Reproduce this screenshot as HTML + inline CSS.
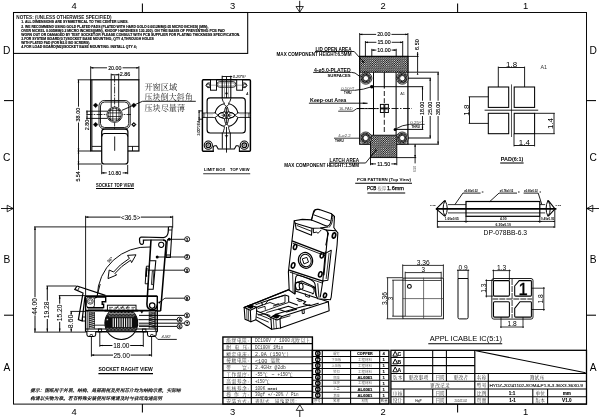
<!DOCTYPE html>
<html><head><meta charset="utf-8"><title>Socket drawing</title>
<style>
html,body{margin:0;padding:0;background:#fff;}
body{width:600px;height:417px;overflow:hidden;font-family:"Liberation Sans",sans-serif;}
svg{display:block;}
</style></head><body>
<svg width="600" height="417" viewBox="0 0 600 417">
<rect x="0" y="0" width="600" height="417" fill="#fff"/>
<filter id="idf" x="0" y="0" width="600" height="417" filterUnits="userSpaceOnUse"><feOffset dx="0" dy="0"/></filter>
<g filter="url(#idf)">
<g id="s_frame">
<rect x="13.5" y="12.5" width="573" height="391.6" rx="0" stroke="#000" stroke-width="0.96" fill="none" />
<rect x="13.5" y="12.5" width="234.2" height="40.9" rx="0" stroke="#000" stroke-width="1.05" fill="none" />
<text x="74.2" y="9.3" font-size="9.4" text-anchor="middle" font-weight="normal" fill="#000" stroke="#000" stroke-width="0" font-family="Liberation Sans, sans-serif" >4</text>
<text x="74.2" y="414.6" font-size="9.4" text-anchor="middle" font-weight="normal" fill="#000" stroke="#000" stroke-width="0" font-family="Liberation Sans, sans-serif" >4</text>
<text x="232.5" y="9.3" font-size="9.4" text-anchor="middle" font-weight="normal" fill="#000" stroke="#000" stroke-width="0" font-family="Liberation Sans, sans-serif" >3</text>
<text x="232.5" y="414.6" font-size="9.4" text-anchor="middle" font-weight="normal" fill="#000" stroke="#000" stroke-width="0" font-family="Liberation Sans, sans-serif" >3</text>
<text x="383" y="9.3" font-size="9.4" text-anchor="middle" font-weight="normal" fill="#000" stroke="#000" stroke-width="0" font-family="Liberation Sans, sans-serif" >2</text>
<text x="383" y="414.6" font-size="9.4" text-anchor="middle" font-weight="normal" fill="#000" stroke="#000" stroke-width="0" font-family="Liberation Sans, sans-serif" >2</text>
<text x="525.5" y="9.3" font-size="9.4" text-anchor="middle" font-weight="normal" fill="#000" stroke="#000" stroke-width="0" font-family="Liberation Sans, sans-serif" >1</text>
<text x="525.5" y="414.6" font-size="9.4" text-anchor="middle" font-weight="normal" fill="#000" stroke="#000" stroke-width="0" font-family="Liberation Sans, sans-serif" >1</text>
<text x="6.8" y="53.6" font-size="10.2" text-anchor="middle" font-weight="normal" fill="#000" stroke="#000" stroke-width="0" font-family="Liberation Sans, sans-serif" >D</text>
<text x="593.2" y="53.6" font-size="10.2" text-anchor="middle" font-weight="normal" fill="#000" stroke="#000" stroke-width="0" font-family="Liberation Sans, sans-serif" >D</text>
<text x="6.8" y="161" font-size="10.2" text-anchor="middle" font-weight="normal" fill="#000" stroke="#000" stroke-width="0" font-family="Liberation Sans, sans-serif" >C</text>
<text x="593.2" y="161" font-size="10.2" text-anchor="middle" font-weight="normal" fill="#000" stroke="#000" stroke-width="0" font-family="Liberation Sans, sans-serif" >C</text>
<text x="6.8" y="262.6" font-size="10.2" text-anchor="middle" font-weight="normal" fill="#000" stroke="#000" stroke-width="0" font-family="Liberation Sans, sans-serif" >B</text>
<text x="593.2" y="262.6" font-size="10.2" text-anchor="middle" font-weight="normal" fill="#000" stroke="#000" stroke-width="0" font-family="Liberation Sans, sans-serif" >B</text>
<text x="6.8" y="370.5" font-size="10.2" text-anchor="middle" font-weight="normal" fill="#000" stroke="#000" stroke-width="0" font-family="Liberation Sans, sans-serif" >A</text>
<text x="593.2" y="370.5" font-size="10.2" text-anchor="middle" font-weight="normal" fill="#000" stroke="#000" stroke-width="0" font-family="Liberation Sans, sans-serif" >A</text>
<line x1="142.4" y1="3.5" x2="142.4" y2="12.5" stroke="#000" stroke-width="1.05" />
<line x1="142.4" y1="404.1" x2="142.4" y2="412.5" stroke="#000" stroke-width="1.05" />
<line x1="457.6" y1="3.5" x2="457.6" y2="12.5" stroke="#000" stroke-width="1.05" />
<line x1="457.6" y1="404.1" x2="457.6" y2="412.5" stroke="#000" stroke-width="1.05" />
<line x1="299.7" y1="0.8" x2="299.7" y2="12.5" stroke="#000" stroke-width="0.88" />
<path d="M296 6.5 L299.7 12.2 L303.4 6.5Z" stroke="#000" stroke-width="0.79" fill="none" />
<line x1="299.8" y1="410.4" x2="299.8" y2="417" stroke="#000" stroke-width="0.88" />
<path d="M296.2 410.4 L299.8 404.8 L303.4 410.4Z" stroke="#000" stroke-width="0.79" fill="none" />
<line x1="4" y1="100.6" x2="13.5" y2="100.6" stroke="#000" stroke-width="1.05" />
<line x1="586.5" y1="100.6" x2="596" y2="100.6" stroke="#000" stroke-width="1.05" />
<line x1="4" y1="315.2" x2="13.5" y2="315.2" stroke="#000" stroke-width="1.05" />
<line x1="586.5" y1="315.2" x2="596" y2="315.2" stroke="#000" stroke-width="1.05" />
<line x1="1" y1="208.5" x2="13.5" y2="208.5" stroke="#000" stroke-width="0.88" />
<path d="M7.2 205.2 L13.2 208.5 L7.2 211.8Z" stroke="#000" stroke-width="0.79" fill="none" />
<line x1="586.5" y1="208.5" x2="599" y2="208.5" stroke="#000" stroke-width="0.88" />
<path d="M592.8 205.2 L586.8 208.5 L592.8 211.8Z" stroke="#000" stroke-width="0.79" fill="none" />
<text x="16.3" y="19.4" font-size="5.0" text-anchor="start" font-weight="bold" fill="#111" stroke="#111" stroke-width="0" font-family="Liberation Sans, sans-serif" textLength="95.2" lengthAdjust="spacingAndGlyphs" >NOTES: (UNLESS OTHERWISE SPECIFIED)</text>
<text x="21.3" y="23.4" font-size="3.4" text-anchor="start" font-weight="bold" fill="#000" stroke="#000" stroke-width="0.12" font-family="Liberation Sans, sans-serif" textLength="107.1" lengthAdjust="spacingAndGlyphs" >1. ALL DIMENSIONS ARE SYMMETRICAL TO THE CENTER LINES.</text>
<text x="21.3" y="27.5" font-size="3.4" text-anchor="start" font-weight="bold" fill="#000" stroke="#000" stroke-width="0.12" font-family="Liberation Sans, sans-serif" textLength="187.1" lengthAdjust="spacingAndGlyphs" >2. WE RECOMMEND USING GOLD PLATED PADS (PLATED WITH HARD GOLD 0.0012MM(0.05 MICRO INCHES) (MIN),</text>
<text x="21.3" y="31.6" font-size="3.4" text-anchor="start" font-weight="bold" fill="#000" stroke="#000" stroke-width="0.12" font-family="Liberation Sans, sans-serif" textLength="203.5" lengthAdjust="spacingAndGlyphs" >OVER NICKEL 0.005MM(0.2 MICRO INCHES)(MIN), KNOOP HARDNESS 130-200). ON THE BASIS OF PREVENTING PCB PAD</text>
<text x="21.3" y="35.7" font-size="3.4" text-anchor="start" font-weight="bold" fill="#000" stroke="#000" stroke-width="0.12" font-family="Liberation Sans, sans-serif" textLength="218.9" lengthAdjust="spacingAndGlyphs" >WORN OUT OR DAMAGED BY TEST SOCKET.OR PLEASE CONSULT WITH PCB SUPPLIER FOR PLATING THICKNESS SPECIFICATION.</text>
<text x="21.3" y="39.8" font-size="3.4" text-anchor="start" font-weight="bold" fill="#000" stroke="#000" stroke-width="0.12" font-family="Liberation Sans, sans-serif" textLength="132.5" lengthAdjust="spacingAndGlyphs" >3.FOR SYSTEM BOARD(0.7)/SOCKET BASE MOUNTING, QTY 4,THROUGH HOLES</text>
<text x="21.3" y="43.9" font-size="3.4" text-anchor="start" font-weight="bold" fill="#000" stroke="#000" stroke-width="0.12" font-family="Liberation Sans, sans-serif" textLength="68.9" lengthAdjust="spacingAndGlyphs" >WITH PLATED PAD (FOR M2.0 ISO SCREWS).</text>
<text x="21.3" y="48" font-size="3.4" text-anchor="start" font-weight="bold" fill="#000" stroke="#000" stroke-width="0.12" font-family="Liberation Sans, sans-serif" textLength="115.5" lengthAdjust="spacingAndGlyphs" >4.FOR LOAD BOARD(M2)/SOCKET BASE MOUNTING. INSTALL QTY 4;</text>
</g>
<g id="s_topview">
<rect x="90.7" y="79.8" width="48.2" height="71.2" rx="0" stroke="#000" stroke-width="1.22" fill="none" />
<line x1="91.9" y1="79.8" x2="91.9" y2="151" stroke="#000" stroke-width="0.96" />
<line x1="91.9" y1="146.4" x2="101.7" y2="146.4" stroke="#000" stroke-width="0.88" />
<line x1="127.9" y1="146.4" x2="138.9" y2="146.4" stroke="#000" stroke-width="0.88" />
<line x1="132.5" y1="146.3" x2="132.5" y2="151" stroke="#000" stroke-width="0.88" />
<line x1="90.7" y1="66.2" x2="90.7" y2="79.8" stroke="#000" stroke-width="0.88" />
<line x1="138.9" y1="66.2" x2="138.9" y2="79.8" stroke="#000" stroke-width="0.88" />
<line x1="90.7" y1="67.8" x2="107.02" y2="67.8" stroke="#000" stroke-width="0.88" /><line x1="122.58" y1="67.8" x2="138.9" y2="67.8" stroke="#000" stroke-width="0.88" /><path d="M90.7 67.8 L93.3 66.95 L93.3 68.65 Z" fill="#000"/><path d="M138.9 67.8 L136.3 68.65 L136.3 66.95 Z" fill="#000"/><text x="114.8" y="69.67" font-size="5.2" text-anchor="middle" font-weight="normal" fill="#000" stroke="#000" stroke-width="0.12" font-family="Liberation Sans, sans-serif" textLength="13.2" lengthAdjust="spacingAndGlyphs" >20.00</text>
<line x1="111.2" y1="73.6" x2="111.2" y2="107.5" stroke="#000" stroke-width="0.88" />
<line x1="118.7" y1="73.6" x2="118.7" y2="107.5" stroke="#000" stroke-width="0.88" />
<line x1="111.2" y1="74.8" x2="119.4" y2="74.8" stroke="#000" stroke-width="0.88" />
<path d="M111.2 74.8 L113.4 74.3 L113.4 75.3 Z" fill="#000"/>
<path d="M118.7 74.8 L116.5 75.3 L116.5 74.3 Z" fill="#000"/>
<text x="119.8" y="76.4" font-size="5.0" text-anchor="start" font-weight="normal" fill="#000" stroke="#000" stroke-width="0.12" font-family="Liberation Sans, sans-serif" textLength="10.6" lengthAdjust="spacingAndGlyphs" >2.86</text>
<line x1="114.6" y1="75.5" x2="114.6" y2="129.5" stroke="#000" stroke-width="0.79" stroke-dasharray="7 1.2 1.6 1.2"/>
<line x1="86.5" y1="114.5" x2="131" y2="114.5" stroke="#000" stroke-width="0.79" stroke-dasharray="6 1.2 1.6 1.2"/>
<rect x="99" y="100.5" width="31.2" height="28.5" rx="5.2" stroke="#000" stroke-width="0.88" fill="none" />
<rect x="100.5" y="102" width="28.2" height="25.5" rx="4.0" stroke="#000" stroke-width="0.88" fill="none" />
<circle cx="114.6" cy="114.7" r="7.7" stroke="#000" stroke-width="0.79" fill="#fff" />
<circle cx="114.6" cy="114.7" r="6.5" stroke="#000" stroke-width="0.79" fill="#fff" />
<line x1="110.2" y1="108.6" x2="110.2" y2="121" stroke="#000" stroke-width="0.7" />
<line x1="112.8" y1="108.6" x2="112.8" y2="121" stroke="#000" stroke-width="0.7" />
<line x1="116.4" y1="108.6" x2="116.4" y2="121" stroke="#000" stroke-width="0.7" />
<line x1="119" y1="108.6" x2="119" y2="121" stroke="#000" stroke-width="0.7" />
<line x1="108.4" y1="110.4" x2="120.8" y2="110.4" stroke="#000" stroke-width="0.7" />
<line x1="108.4" y1="112.9" x2="120.8" y2="112.9" stroke="#000" stroke-width="0.7" />
<line x1="108.4" y1="116.5" x2="120.8" y2="116.5" stroke="#000" stroke-width="0.7" />
<line x1="108.4" y1="119" x2="120.8" y2="119" stroke="#000" stroke-width="0.7" />
<line x1="86.2" y1="111.2" x2="107.5" y2="111.2" stroke="#000" stroke-width="0.88" />
<line x1="86.2" y1="118.4" x2="107.5" y2="118.4" stroke="#000" stroke-width="0.88" />
<line x1="87" y1="110.5" x2="87" y2="120" stroke="#000" stroke-width="0.88" />
<path d="M87 111.2 L87.6 113.2 L86.4 113.2 Z" fill="#000"/>
<path d="M87 118.4 L86.4 116.4 L87.6 116.4 Z" fill="#000"/>
<text x="88.9" y="125" font-size="5.0" text-anchor="middle" font-weight="normal" fill="#000" stroke="#000" stroke-width="0.12" font-family="Liberation Sans, sans-serif" textLength="10.4" lengthAdjust="spacingAndGlyphs" transform="rotate(-90 88.9 125)" >2.80</text>
<path d="M93.2 105.3 L95.6 102.9 L98 105.3 L95.6 107.7Z" stroke="#000" stroke-width="0.35" fill="#000" />
<path d="M131.4 105.3 L133.8 102.9 L136.2 105.3 L133.8 107.7Z" stroke="#000" stroke-width="0.35" fill="#000" />
<path d="M93.2 124.6 L95.6 122.2 L98 124.6 L95.6 127Z" stroke="#000" stroke-width="0.35" fill="#000" />
<path d="M131.4 124.6 L133.8 122.2 L136.2 124.6 L133.8 127Z" stroke="#000" stroke-width="0.35" fill="#000" />
<circle cx="133.8" cy="124.6" r="0.75" stroke="#000" stroke-width="0" fill="#fff" />
<line x1="77.6" y1="79.8" x2="90.7" y2="79.8" stroke="#000" stroke-width="0.88" />
<line x1="77.6" y1="151" x2="90.7" y2="151" stroke="#000" stroke-width="0.88" />
<line x1="77.6" y1="164" x2="101.7" y2="164" stroke="#000" stroke-width="0.88" />
<line x1="78.5" y1="79.8" x2="78.5" y2="106.68" stroke="#000" stroke-width="0.88" /><line x1="78.5" y1="122.52" x2="78.5" y2="151" stroke="#000" stroke-width="0.88" /><path d="M78.5 79.8 L79.35 82.4 L77.65 82.4 Z" fill="#000"/><path d="M78.5 151 L77.65 148.4 L79.35 148.4 Z" fill="#000"/><text x="80.4" y="114.6" font-size="5.3" text-anchor="middle" font-weight="normal" fill="#000" stroke="#000" stroke-width="0.12" font-family="Liberation Sans, sans-serif" textLength="13.8" lengthAdjust="spacingAndGlyphs" transform="rotate(-90 80.4 114.6)" >38.00</text>
<line x1="78.5" y1="151" x2="78.5" y2="170" stroke="#000" stroke-width="0.88" />
<path d="M78.5 151 L79.35 153.4 L77.65 153.4 Z" fill="#000"/>
<path d="M78.5 164 L77.65 161.6 L79.35 161.6 Z" fill="#000"/>
<text x="80.4" y="176.4" font-size="5.0" text-anchor="middle" font-weight="normal" fill="#000" stroke="#000" stroke-width="0.12" font-family="Liberation Sans, sans-serif" textLength="10.4" lengthAdjust="spacingAndGlyphs" transform="rotate(-90 80.4 176.4)" >5.54</text>
<rect x="101.7" y="129.2" width="26.2" height="34.8" rx="2.8" stroke="#000" stroke-width="1.22" fill="#fff" />
<path d="M101.9 136.4 Q102.0 133.5 104.6 133.5 L125.0 133.5 Q127.6 133.5 127.7 136.4" stroke="#000" stroke-width="1.05" fill="none" />
<line x1="114.7" y1="136.5" x2="114.7" y2="150.8" stroke="#000" stroke-width="0.88" />
<line x1="101.7" y1="164.8" x2="101.7" y2="174.2" stroke="#000" stroke-width="0.88" />
<line x1="127.7" y1="164.8" x2="127.7" y2="174.2" stroke="#000" stroke-width="0.88" />
<line x1="101.7" y1="172.9" x2="106.78" y2="172.9" stroke="#000" stroke-width="0.88" /><line x1="122.62" y1="172.9" x2="127.7" y2="172.9" stroke="#000" stroke-width="0.88" /><path d="M101.7 172.9 L104.3 172.05 L104.3 173.75 Z" fill="#000"/><path d="M127.7 172.9 L125.1 173.75 L125.1 172.05 Z" fill="#000"/><text x="114.7" y="174.81" font-size="5.3" text-anchor="middle" font-weight="normal" fill="#000" stroke="#000" stroke-width="0.12" font-family="Liberation Sans, sans-serif" textLength="12.8" lengthAdjust="spacingAndGlyphs" >10.80</text>
<text x="115" y="186.5" font-size="4.5" text-anchor="middle" font-weight="bold" fill="#000" stroke="#000" stroke-width="0" font-family="Liberation Sans, sans-serif" textLength="38" lengthAdjust="spacingAndGlyphs" >SOCKET TOP VIEW</text>
<line x1="96" y1="188.5" x2="134" y2="188.5" stroke="#000" stroke-width="1.05" />
<line x1="122" y1="110.3" x2="142.5" y2="101.3" stroke="#000" stroke-width="0.88" />
<line x1="142.5" y1="101.3" x2="195.8" y2="101.3" stroke="#000" stroke-width="0.88" />
<text x="144.4" y="90.2" font-size="8.2" text-anchor="start" fill="#222" font-family="'Liberation Serif', 'Noto Serif CJK SC', serif" textLength="32.9" lengthAdjust="spacingAndGlyphs">开窗区域</text>
<text x="144.4" y="100.1" font-size="8.1" text-anchor="start" fill="#222" font-family="'Liberation Serif', 'Noto Serif CJK SC', serif" textLength="48.3" lengthAdjust="spacingAndGlyphs">压块倒大斜角</text>
<text x="144.4" y="111" font-size="8.1" text-anchor="start" fill="#222" font-family="'Liberation Serif', 'Noto Serif CJK SC', serif" textLength="40.8" lengthAdjust="spacingAndGlyphs">压块尽量薄</text>
</g>
<g id="s_limit">
<rect x="202.4" y="79.8" width="48" height="71.5" rx="1.0" stroke="#000" stroke-width="1.49" fill="none" />
<path d="M210.5 83.0 L207.6 83.0 L205.9 85.3 L207.6 87.6 L210.5 87.6 M242.6 83.0 L245.4 83.0 L247.1 85.3 L245.4 87.6 L242.6 87.6" stroke="#000" stroke-width="0.88" fill="none" />
<rect x="210.5" y="79.8" width="6" height="10.4" rx="0" stroke="#000" stroke-width="0.96" fill="#fff" />
<line x1="210.5" y1="85.2" x2="216.5" y2="85.2" stroke="#555" stroke-width="0.53" />
<rect x="236.7" y="79.8" width="5.9" height="10.4" rx="0" stroke="#000" stroke-width="0.96" fill="#fff" />
<line x1="236.7" y1="85.2" x2="242.6" y2="85.2" stroke="#555" stroke-width="0.53" />
<rect x="217" y="81.6" width="18.8" height="5.7" rx="2.8" stroke="#000" stroke-width="0.79" fill="none" />
<rect x="218.3" y="82.9" width="16.2" height="3.1" rx="1.5" stroke="#444" stroke-width="0.53" fill="none" />
<circle cx="208.2" cy="85.4" r="1.5" stroke="#000" stroke-width="0.79" fill="#fff" />
<circle cx="244.8" cy="85.4" r="1.5" stroke="#000" stroke-width="0.79" fill="#fff" />
<line x1="222.2" y1="75.8" x2="222.2" y2="98" stroke="#000" stroke-width="1.05" />
<line x1="230.8" y1="75.8" x2="230.8" y2="98" stroke="#000" stroke-width="1.05" />
<line x1="224.5" y1="79.8" x2="224.5" y2="97.6" stroke="#555" stroke-width="0.53" />
<line x1="228.4" y1="79.8" x2="228.4" y2="97.6" stroke="#555" stroke-width="0.53" />
<line x1="222.2" y1="76.5" x2="232.2" y2="76.5" stroke="#000" stroke-width="0.88" />
<line x1="226.5" y1="76.5" x2="226.5" y2="98" stroke="#000" stroke-width="0.88" />
<path d="M225.5 93.4 L226.5 92 L227.5 93.4 L226.5 94.8Z" stroke="#000" stroke-width="0.53" fill="#000" />
<text x="232.8" y="78.1" font-size="4.0" text-anchor="start" font-weight="normal" fill="#000" stroke="#000" stroke-width="0.05" font-family="Liberation Sans, sans-serif" textLength="13.4" lengthAdjust="spacingAndGlyphs" font-style="italic">0.20*5°</text>
<text x="246.2" y="94.8" font-size="3.2" text-anchor="start" font-weight="normal" fill="#000" stroke="#000" stroke-width="0.05" font-family="Liberation Sans, sans-serif" font-style="italic">A</text>
<rect x="207.1" y="97.9" width="38.2" height="35.1" rx="3.0" stroke="#000" stroke-width="1.14" fill="none" />
<circle cx="226.5" cy="115" r="11.5" stroke="#000" stroke-width="1.05" fill="#fff" />
<rect x="213.6" y="113" width="3" height="4.5" rx="0" stroke="none" stroke-width="0" fill="#fff" />
<rect x="236.4" y="113" width="3" height="4.5" rx="0" stroke="none" stroke-width="0" fill="#fff" />
<rect x="224" y="102.4" width="5" height="2.8" rx="0" stroke="none" stroke-width="0" fill="#fff" />
<rect x="224" y="124.8" width="5" height="3" rx="0" stroke="none" stroke-width="0" fill="#fff" />
<rect x="203.1" y="113" width="3.9" height="4.5" rx="0" stroke="none" stroke-width="0" fill="#fff" />
<rect x="246" y="113" width="3.7" height="4.5" rx="0" stroke="none" stroke-width="0" fill="#fff" />
<path d="M202.4 113.0 L214.0 113.0 Q215.2 113.0 215.6 112.0" stroke="#000" stroke-width="0.79" fill="none" />
<path d="M250.4 113.0 L239.0 113.0 Q237.8 113.0 237.4 112.0" stroke="#000" stroke-width="0.79" fill="none" />
<path d="M215.0 113.0 L218.3 115.25 M238.0 113.0 L234.7 115.25" stroke="#000" stroke-width="0.79" fill="none" />
<path d="M202.4 117.5 L214.0 117.5 Q215.2 117.5 215.6 118.5" stroke="#000" stroke-width="0.79" fill="none" />
<path d="M250.4 117.5 L239.0 117.5 Q237.8 117.5 237.4 118.5" stroke="#000" stroke-width="0.79" fill="none" />
<path d="M215.0 117.5 L218.3 115.25 M238.0 117.5 L234.7 115.25" stroke="#000" stroke-width="0.79" fill="none" />
<line x1="202.4" y1="114.3" x2="213" y2="114.3" stroke="#999" stroke-width="0.39" />
<line x1="240" y1="114.3" x2="250.4" y2="114.3" stroke="#999" stroke-width="0.39" />
<line x1="202.4" y1="116.2" x2="213" y2="116.2" stroke="#999" stroke-width="0.39" />
<line x1="240" y1="116.2" x2="250.4" y2="116.2" stroke="#999" stroke-width="0.39" />
<line x1="203.9" y1="113" x2="203.9" y2="117.5" stroke="#000" stroke-width="0.79" />
<line x1="249" y1="113" x2="249" y2="117.5" stroke="#000" stroke-width="0.79" />
<path d="M222.2 97.9 L222.2 98.6 Q222.6 101.6 224.3 103.0 L224.3 104.6 L226.5 106.6 M230.8 97.9 L230.8 98.6 Q230.4 101.6 228.7 103.0 L228.7 104.6 L226.5 106.6" stroke="#000" stroke-width="0.88" fill="none" />
<path d="M226.5 123.6 L224.3 126.2 L224.3 128.6 Q223.6 130 223.2 132.6 M226.5 123.6 L228.7 126.2 L228.7 128.6 Q229.4 130 229.8 132.6" stroke="#000" stroke-width="0.88" fill="none" />
<ellipse cx="226.5" cy="115.2" rx="8.3" ry="3.1" fill="#fff" stroke="#000" stroke-width="0.95"/>
<ellipse cx="226.5" cy="115.4" rx="2.1" ry="9.0" fill="#fff" stroke="#000" stroke-width="0.95"/>
<ellipse cx="226.5" cy="115.2" rx="8.3" ry="3.1" fill="none" stroke="#000" stroke-width="0.95"/>
<line x1="226.5" y1="107.5" x2="226.5" y2="123.5" stroke="#000" stroke-width="0.79" />
<line x1="221.5" y1="115.25" x2="231.5" y2="115.25" stroke="#000" stroke-width="0.7" />
<circle cx="224.3" cy="113.2" r="1.35" stroke="#000" stroke-width="0.88" fill="#fff" />
<circle cx="228.7" cy="113.2" r="1.35" stroke="#000" stroke-width="0.88" fill="#fff" />
<circle cx="224.3" cy="117.4" r="1.35" stroke="#000" stroke-width="0.88" fill="#fff" />
<circle cx="228.7" cy="117.4" r="1.35" stroke="#000" stroke-width="0.88" fill="#fff" />
<line x1="222.3" y1="132.6" x2="222.3" y2="148.6" stroke="#000" stroke-width="0.96" />
<line x1="230.3" y1="132.6" x2="230.3" y2="148.6" stroke="#000" stroke-width="0.96" />
<line x1="226.5" y1="127" x2="226.5" y2="152.5" stroke="#000" stroke-width="0.88" />
<path d="M226.5 138.4 L225.6 136 L227.4 136 Z" fill="#000"/>
<line x1="224.8" y1="135.6" x2="228.2" y2="135.6" stroke="#000" stroke-width="0.7" />
<circle cx="208.3" cy="145.2" r="4.1" stroke="#000" stroke-width="1.05" fill="#fff" />
<circle cx="208.3" cy="145.2" r="2.3" stroke="#000" stroke-width="1.14" fill="#fff" />
<circle cx="208.3" cy="145.2" r="0.8" stroke="#000" stroke-width="0.61" fill="#fff" />
<circle cx="244.3" cy="145.2" r="4.1" stroke="#000" stroke-width="1.05" fill="#fff" />
<circle cx="244.3" cy="145.2" r="2.3" stroke="#000" stroke-width="1.14" fill="#fff" />
<circle cx="244.3" cy="145.2" r="0.8" stroke="#000" stroke-width="0.61" fill="#fff" />
<rect x="213.9" y="150" width="25" height="2.6" rx="0" stroke="none" stroke-width="0" fill="#fff" />
<path d="M213.2 151.3 L213.2 147.6 Q213.4 145.7 215.0 145.7 L216.4 145.7 L218.2 149.0 L234.4 149.0 L236.2 145.7 L237.6 145.7 Q239.2 145.7 239.4 147.6 L239.4 151.3" stroke="#000" stroke-width="1.05" fill="none" />
<line x1="226.5" y1="149" x2="226.5" y2="152.5" stroke="#000" stroke-width="0.88" />
<line x1="198.4" y1="110.9" x2="202.4" y2="110.9" stroke="#000" stroke-width="0.88" />
<line x1="198.4" y1="119.2" x2="202.4" y2="119.2" stroke="#000" stroke-width="0.88" />
<line x1="199.1" y1="110.2" x2="199.1" y2="121" stroke="#000" stroke-width="0.88" />
<path d="M199.1 110.9 L199.7 113.1 L198.5 113.1 Z" fill="#000"/>
<path d="M199.1 119.2 L198.5 117 L199.7 117 Z" fill="#000"/>
<text x="200.4" y="128" font-size="3.5" text-anchor="middle" font-weight="normal" fill="#222" stroke="#222" stroke-width="0.1" font-family="Liberation Sans, sans-serif" textLength="15" lengthAdjust="spacingAndGlyphs" transform="rotate(-90 200.4 128)" >3.00*2EA</text>
<text x="204" y="171.1" font-size="4.2" text-anchor="start" font-weight="bold" fill="#000" stroke="#000" stroke-width="0" font-family="Liberation Sans, sans-serif" textLength="21.2" lengthAdjust="spacingAndGlyphs" >LIMIT BOX</text>
<text x="230" y="171.1" font-size="4.2" text-anchor="start" font-weight="bold" fill="#000" stroke="#000" stroke-width="0" font-family="Liberation Sans, sans-serif" textLength="19.5" lengthAdjust="spacingAndGlyphs" >TOP VIEW</text>
<line x1="203.2" y1="173.8" x2="250.2" y2="173.8" stroke="#333" stroke-width="1.05" />
</g>
<g id="s_pcb">
<defs>
<pattern id="hx" width="2.2" height="2.2" patternUnits="userSpaceOnUse" x="359.7" y="56.4">
<rect width="2.2" height="2.2" fill="#000"/>
<path d="M0.55 -0.21 L1.31 0.55 L0.55 1.31 L-0.21 0.55Z M1.65 0.89 L2.41 1.65 L1.65 2.41 L0.89 1.65Z" fill="#fff"/>
</pattern>
<pattern id="hx2" width="1.4" height="1.4" patternUnits="userSpaceOnUse">
<rect width="1.4" height="1.4" fill="#000"/>
<path d="M0.35 0 L0.7 0.35 L0.35 0.7 L0 0.35Z M1.05 0.7 L1.4 1.05 L1.05 1.4 L0.7 1.05Z" fill="#fff"/>
</pattern>
</defs>
<rect x="359.7" y="56.4" width="48.2" height="87.8" rx="0" stroke="#000" stroke-width="1.22" fill="none" />
<line x1="373.5" y1="72.2" x2="373.5" y2="135.2" stroke="#000" stroke-width="1.05" />
<line x1="396.1" y1="72.2" x2="396.1" y2="135.2" stroke="#000" stroke-width="1.05" />
<line x1="384.3" y1="72.2" x2="384.3" y2="88.5" stroke="#000" stroke-width="1.05" />
<line x1="384.3" y1="91" x2="384.3" y2="133" stroke="#000" stroke-width="0.88" stroke-dasharray="5 2.2"/>
<line x1="357" y1="108.5" x2="412" y2="108.5" stroke="#000" stroke-width="0.88" stroke-dasharray="7 1.5 1.5 1.5"/>
<rect x="359.7" y="56.4" width="48.19999999999999" height="15.800000000000004" fill="url(#hx)" stroke="#000" stroke-width="0.9"/>
<rect x="370.5" y="135.2" width="26.3" height="22.4" fill="url(#hx)" stroke="#000" stroke-width="0.9"/>
<circle cx="365.9" cy="78.2" r="6.0" fill="#fff" stroke="#000" stroke-width="0.8"/>
<circle cx="365.9" cy="78.2" r="4.1" fill="none" stroke="url(#hx2)" stroke-width="2.6"/>
<circle cx="365.9" cy="78.2" r="2.7" fill="#fff" stroke="#000" stroke-width="0.8"/>
<circle cx="402.3" cy="78.2" r="6.0" fill="#fff" stroke="#000" stroke-width="0.8"/>
<circle cx="402.3" cy="78.2" r="4.1" fill="none" stroke="url(#hx2)" stroke-width="2.6"/>
<circle cx="402.3" cy="78.2" r="2.7" fill="#fff" stroke="#000" stroke-width="0.8"/>
<circle cx="365.7" cy="138.0" r="6.0" fill="#fff" stroke="#000" stroke-width="0.8"/>
<circle cx="365.7" cy="138.0" r="4.1" fill="none" stroke="url(#hx2)" stroke-width="2.6"/>
<circle cx="365.7" cy="138.0" r="2.7" fill="#fff" stroke="#000" stroke-width="0.8"/>
<circle cx="402.2" cy="138.0" r="6.0" fill="#fff" stroke="#000" stroke-width="0.8"/>
<circle cx="402.2" cy="138.0" r="4.1" fill="none" stroke="url(#hx2)" stroke-width="2.6"/>
<circle cx="402.2" cy="138.0" r="2.7" fill="#fff" stroke="#000" stroke-width="0.8"/>
<line x1="359.7" y1="33" x2="359.7" y2="56.4" stroke="#000" stroke-width="0.88" />
<line x1="407.9" y1="33" x2="407.9" y2="56.4" stroke="#000" stroke-width="0.88" />
<line x1="359.7" y1="34.4" x2="376.16" y2="34.4" stroke="#000" stroke-width="0.88" /><line x1="391.44" y1="34.4" x2="407.9" y2="34.4" stroke="#000" stroke-width="0.88" /><path d="M359.7 34.4 L362.3 33.55 L362.3 35.25 Z" fill="#000"/><path d="M407.9 34.4 L405.3 35.25 L405.3 33.55 Z" fill="#000"/><text x="383.8" y="36.24" font-size="5.1" text-anchor="middle" font-weight="normal" fill="#000" stroke="#000" stroke-width="0.12" font-family="Liberation Sans, sans-serif" textLength="13.3" lengthAdjust="spacingAndGlyphs" >20.00</text>
<line x1="365.4" y1="41" x2="365.4" y2="56.4" stroke="#000" stroke-width="0.88" />
<line x1="402.7" y1="41" x2="402.7" y2="56.4" stroke="#000" stroke-width="0.88" />
<line x1="365.4" y1="42.3" x2="376.41" y2="42.3" stroke="#000" stroke-width="0.88" /><line x1="391.69" y1="42.3" x2="402.7" y2="42.3" stroke="#000" stroke-width="0.88" /><path d="M365.4 42.3 L368 41.45 L368 43.15 Z" fill="#000"/><path d="M402.7 42.3 L400.1 43.15 L400.1 41.45 Z" fill="#000"/><text x="384.05" y="44.14" font-size="5.1" text-anchor="middle" font-weight="normal" fill="#000" stroke="#000" stroke-width="0.12" font-family="Liberation Sans, sans-serif" textLength="13.3" lengthAdjust="spacingAndGlyphs" >15.00</text>
<line x1="371.8" y1="48.8" x2="371.8" y2="56.4" stroke="#000" stroke-width="0.88" />
<line x1="396.2" y1="48.8" x2="396.2" y2="56.4" stroke="#000" stroke-width="0.88" />
<line x1="371.8" y1="50.1" x2="376.36" y2="50.1" stroke="#000" stroke-width="0.88" /><line x1="391.64" y1="50.1" x2="396.2" y2="50.1" stroke="#000" stroke-width="0.88" /><path d="M371.8 50.1 L374.4 49.25 L374.4 50.95 Z" fill="#000"/><path d="M396.2 50.1 L393.6 50.95 L393.6 49.25 Z" fill="#000"/><text x="384" y="51.94" font-size="5.1" text-anchor="middle" font-weight="normal" fill="#000" stroke="#000" stroke-width="0.12" font-family="Liberation Sans, sans-serif" textLength="13.3" lengthAdjust="spacingAndGlyphs" >10.00</text>
<line x1="407.9" y1="56.4" x2="418.6" y2="56.4" stroke="#000" stroke-width="0.88" />
<line x1="407.9" y1="72.2" x2="438.9" y2="72.2" stroke="#000" stroke-width="0.88" />
<line x1="417.6" y1="52" x2="417.6" y2="72.2" stroke="#000" stroke-width="0.88" />
<path d="M417.6 56.4 L416.75 53.8 L418.45 53.8 Z" fill="#000"/>
<path d="M417.6 72.2 L418.45 74.8 L416.75 74.8 Z" fill="#000"/>
<text x="419.2" y="44.6" font-size="4.8" text-anchor="middle" font-weight="normal" fill="#000" stroke="#000" stroke-width="0.12" font-family="Liberation Sans, sans-serif" textLength="10.6" lengthAdjust="spacingAndGlyphs" transform="rotate(-90 419.2 44.6)" >6.50</text>
<line x1="371.8" y1="86.7" x2="423.3" y2="86.7" stroke="#000" stroke-width="0.96" />
<line x1="395.1" y1="129.4" x2="423.3" y2="129.4" stroke="#000" stroke-width="0.96" />
<line x1="422.5" y1="86.7" x2="422.5" y2="100.76" stroke="#000" stroke-width="0.88" /><line x1="422.5" y1="116.04" x2="422.5" y2="129.4" stroke="#000" stroke-width="0.88" /><path d="M422.5 86.7 L423.35 89.3 L421.65 89.3 Z" fill="#000"/><path d="M422.5 129.4 L421.65 126.8 L423.35 126.8 Z" fill="#000"/><text x="424" y="108.4" font-size="5.1" text-anchor="middle" font-weight="normal" fill="#000" stroke="#000" stroke-width="0.12" font-family="Liberation Sans, sans-serif" textLength="13.3" lengthAdjust="spacingAndGlyphs" transform="rotate(-90 424 108.4)" >18.00</text>
<line x1="408" y1="78.2" x2="431" y2="78.2" stroke="#000" stroke-width="0.96" />
<line x1="408" y1="138" x2="431" y2="138" stroke="#000" stroke-width="0.96" />
<line x1="430.2" y1="78.2" x2="430.2" y2="100.76" stroke="#000" stroke-width="0.88" /><line x1="430.2" y1="116.04" x2="430.2" y2="138" stroke="#000" stroke-width="0.88" /><path d="M430.2 78.2 L431.05 80.8 L429.35 80.8 Z" fill="#000"/><path d="M430.2 138 L429.35 135.4 L431.05 135.4 Z" fill="#000"/><text x="431.7" y="108.4" font-size="5.1" text-anchor="middle" font-weight="normal" fill="#000" stroke="#000" stroke-width="0.12" font-family="Liberation Sans, sans-serif" textLength="13.3" lengthAdjust="spacingAndGlyphs" transform="rotate(-90 431.7 108.4)" >25.00</text>
<line x1="407.9" y1="144.2" x2="438.9" y2="144.2" stroke="#000" stroke-width="0.96" />
<line x1="438.1" y1="72.2" x2="438.1" y2="100.76" stroke="#000" stroke-width="0.88" /><line x1="438.1" y1="116.04" x2="438.1" y2="144.2" stroke="#000" stroke-width="0.88" /><path d="M438.1 72.2 L438.95 74.8 L437.25 74.8 Z" fill="#000"/><path d="M438.1 144.2 L437.25 141.6 L438.95 141.6 Z" fill="#000"/><text x="439.6" y="108.4" font-size="5.1" text-anchor="middle" font-weight="normal" fill="#000" stroke="#000" stroke-width="0.12" font-family="Liberation Sans, sans-serif" textLength="13.3" lengthAdjust="spacingAndGlyphs" transform="rotate(-90 439.6 108.4)" >38.00</text>
<circle cx="371.8" cy="86.7" r="1.8" stroke="#000" stroke-width="0" fill="#000" />
<circle cx="395.1" cy="129.4" r="1.5" stroke="#000" stroke-width="0" fill="#000" />
<rect x="380.4" y="104.4" width="3.6" height="3.6" rx="0" stroke="#000" stroke-width="0.96" fill="#fff" />
<rect x="384.8" y="104.4" width="3.6" height="3.6" rx="0" stroke="#000" stroke-width="0.96" fill="#fff" />
<rect x="380.4" y="108.9" width="3.6" height="3.6" rx="0" stroke="#000" stroke-width="0.96" fill="#fff" />
<rect x="384.8" y="108.9" width="3.6" height="3.6" rx="0" stroke="#000" stroke-width="0.96" fill="#fff" />
<text x="400.2" y="94.7" font-size="4.0" text-anchor="start" font-weight="normal" fill="#333" stroke="#333" stroke-width="0" font-family="Liberation Sans, sans-serif" >A1</text>
<text x="315.5" y="50.9" font-size="4.8" text-anchor="start" font-weight="bold" fill="#000" stroke="#000" stroke-width="0" font-family="Liberation Sans, sans-serif" textLength="36" lengthAdjust="spacingAndGlyphs" >LID OPEN AREA</text>
<text x="276.5" y="56.3" font-size="4.5" text-anchor="start" font-weight="bold" fill="#000" stroke="#000" stroke-width="0" font-family="Liberation Sans, sans-serif" textLength="75" lengthAdjust="spacingAndGlyphs" >MAX COMPONENT HEIGHT:6.5MM</text>
<path d="M315 51.5 L354.2 51.5 L363.2 61.6" stroke="#000" stroke-width="0.88" fill="none" />
<circle cx="363.2" cy="61.8" r="1" stroke="#000" stroke-width="0" fill="#000" />
<text x="314" y="71.7" font-size="4.6" text-anchor="start" font-weight="bold" fill="#000" stroke="#000" stroke-width="0" font-family="Liberation Sans, sans-serif" textLength="36.7" lengthAdjust="spacingAndGlyphs" >4-ø5.0-PLATED</text>
<line x1="313.2" y1="72.4" x2="351.5" y2="72.4" stroke="#000" stroke-width="0.88" />
<text x="327.5" y="77.3" font-size="4.4" text-anchor="start" font-weight="bold" fill="#000" stroke="#000" stroke-width="0" font-family="Liberation Sans, sans-serif" textLength="23.2" lengthAdjust="spacingAndGlyphs" >SURFACES</text>
<path d="M351.5 72.4 L355 73 L360.3 76.8" stroke="#000" stroke-width="0.88" fill="none" />
<text x="341.3" y="89.5" font-size="3.2" text-anchor="start" font-weight="normal" fill="#444" stroke="#444" stroke-width="0" font-family="Liberation Sans, sans-serif" textLength="13" lengthAdjust="spacingAndGlyphs" >0.10^T</text>
<line x1="340.6" y1="90.3" x2="354.8" y2="90.3" stroke="#000" stroke-width="0.7" />
<text x="344" y="94" font-size="3.2" text-anchor="start" font-weight="bold" fill="#000" stroke="#000" stroke-width="0" font-family="Liberation Sans, sans-serif" textLength="7.6" lengthAdjust="spacingAndGlyphs" >THRU</text>
<path d="M354.8 90.3 Q364 89.6 370.6 87.0" stroke="#000" stroke-width="0.88" fill="none" />
<text x="310.1" y="101.9" font-size="4.8" text-anchor="start" font-weight="bold" fill="#000" stroke="#000" stroke-width="0" font-family="Liberation Sans, sans-serif" textLength="36" lengthAdjust="spacingAndGlyphs" >Keep-out Area</text>
<line x1="308.9" y1="103.2" x2="367.5" y2="103.2" stroke="#000" stroke-width="0.88" />
<path d="M368.2 103.2 L362.8 104 L362.8 102.4 Z" fill="#000"/>
<text x="338.9" y="110.4" font-size="3.6" text-anchor="start" font-weight="normal" fill="#444" stroke="#444" stroke-width="0" font-family="Liberation Sans, sans-serif" textLength="13.7" lengthAdjust="spacingAndGlyphs" >16-PAD</text>
<path d="M338.2 111.2 L353 111.2 L356.8 108.6 L378.5 108.6" stroke="#000" stroke-width="0.79" fill="none" />
<text x="338.2" y="137.4" font-size="3.4" text-anchor="start" font-weight="normal" fill="#444" stroke="#444" stroke-width="0" font-family="Liberation Sans, sans-serif" textLength="12.6" lengthAdjust="spacingAndGlyphs" >4-ø2.2</text>
<line x1="334" y1="138.2" x2="360.2" y2="138.2" stroke="#000" stroke-width="0.79" />
<text x="335" y="142.2" font-size="3.2" text-anchor="start" font-weight="bold" fill="#000" stroke="#000" stroke-width="0" font-family="Liberation Sans, sans-serif" textLength="8.8" lengthAdjust="spacingAndGlyphs" >THRU</text>
<text x="329.6" y="161.9" font-size="4.7" text-anchor="start" font-weight="bold" fill="#000" stroke="#000" stroke-width="0" font-family="Liberation Sans, sans-serif" textLength="29.6" lengthAdjust="spacingAndGlyphs" >LATCH AREA</text>
<text x="284.2" y="167" font-size="4.5" text-anchor="start" font-weight="bold" fill="#000" stroke="#000" stroke-width="0" font-family="Liberation Sans, sans-serif" textLength="75" lengthAdjust="spacingAndGlyphs" >MAX COMPONENT HEIGHT:1.5MM</text>
<path d="M329 163 L365.6 163 L375.6 150.6" stroke="#000" stroke-width="0.88" fill="none" />
<circle cx="375.7" cy="150.4" r="1" stroke="#000" stroke-width="0" fill="#000" />
<text x="410.2" y="123.6" font-size="3.0" text-anchor="start" font-weight="normal" fill="#333" stroke="#333" stroke-width="0" font-family="Liberation Sans, sans-serif" textLength="13.6" lengthAdjust="spacingAndGlyphs" >0.25^T</text>
<line x1="409.6" y1="124.4" x2="424.6" y2="124.4" stroke="#000" stroke-width="0.7" />
<text x="411.5" y="128.2" font-size="2.9" text-anchor="start" font-weight="bold" fill="#000" stroke="#000" stroke-width="0" font-family="Liberation Sans, sans-serif" textLength="8.4" lengthAdjust="spacingAndGlyphs" >THRU</text>
<path d="M409.6 124.4 Q402 125 396.4 128.6" stroke="#000" stroke-width="0.88" fill="none" />
<line x1="396.8" y1="157.6" x2="416.2" y2="157.6" stroke="#000" stroke-width="0.88" />
<line x1="415.1" y1="144.2" x2="415.1" y2="163.4" stroke="#000" stroke-width="0.88" />
<path d="M415.1 144.2 L415.95 146.8 L414.25 146.8 Z" fill="#000"/>
<path d="M415.1 157.6 L414.25 155 L415.95 155 Z" fill="#000"/>
<text x="416.4" y="169" font-size="3.0" text-anchor="middle" font-weight="normal" fill="#333" stroke="#333" stroke-width="0" font-family="Liberation Sans, sans-serif" textLength="6" lengthAdjust="spacingAndGlyphs" transform="rotate(-90 416.4 169)" >6.50</text>
<line x1="370.5" y1="157.6" x2="370.5" y2="165.2" stroke="#000" stroke-width="0.88" />
<line x1="396.8" y1="157.6" x2="396.8" y2="165.2" stroke="#000" stroke-width="0.88" />
<line x1="370.5" y1="163.9" x2="376.01" y2="163.9" stroke="#000" stroke-width="0.88" /><line x1="391.29" y1="163.9" x2="396.8" y2="163.9" stroke="#000" stroke-width="0.88" /><path d="M370.5 163.9 L373.1 163.05 L373.1 164.75 Z" fill="#000"/><path d="M396.8 163.9 L394.2 164.75 L394.2 163.05 Z" fill="#000"/><text x="383.65" y="165.74" font-size="5.1" text-anchor="middle" font-weight="normal" fill="#000" stroke="#000" stroke-width="0.12" font-family="Liberation Sans, sans-serif" textLength="13" lengthAdjust="spacingAndGlyphs" >11.50</text>
<text x="384" y="181" font-size="4.2" text-anchor="middle" font-weight="bold" fill="#000" stroke="#000" stroke-width="0" font-family="Liberation Sans, sans-serif" textLength="54" lengthAdjust="spacingAndGlyphs" >PCB PATTERN (Top View)</text>
<line x1="355.2" y1="183.3" x2="412" y2="183.3" stroke="#000" stroke-width="1.05" />
<text x="367" y="190" font-size="5.6" text-anchor="start" font-weight="normal" fill="#000" stroke="#000" stroke-width="0.25" font-family="Liberation Sans, sans-serif" textLength="9.4" lengthAdjust="spacingAndGlyphs" >PCB</text>
<text x="377.6" y="189.7" font-size="4.3" text-anchor="start" fill="#888" font-family="'Liberation Sans', 'Noto Sans CJK SC', sans-serif" textLength="8.7" lengthAdjust="spacingAndGlyphs">板厚</text>
<text x="387" y="190" font-size="5.6" text-anchor="start" font-weight="normal" fill="#000" stroke="#000" stroke-width="0.25" font-family="Liberation Sans, sans-serif" textLength="17" lengthAdjust="spacingAndGlyphs" >1.6mm</text>
<line x1="367.4" y1="193" x2="405.2" y2="193" stroke="#000" stroke-width="1.05" />
</g>
<g id="s_pad">
<rect x="488.3" y="87" width="20.4" height="20.4" rx="0" stroke="#000" stroke-width="1.05" fill="none" />
<rect x="514.2" y="87" width="20.4" height="20.4" rx="0" stroke="#000" stroke-width="1.05" fill="none" />
<rect x="488.3" y="113.3" width="20.4" height="20.4" rx="0" stroke="#000" stroke-width="1.05" fill="none" />
<rect x="514.2" y="113.3" width="20.4" height="20.4" rx="0" stroke="#000" stroke-width="1.05" fill="none" />
<line x1="511.5" y1="84.4" x2="511.5" y2="137" stroke="#000" stroke-width="0.67" />
<line x1="484.6" y1="110.2" x2="538.2" y2="110.2" stroke="#000" stroke-width="0.88" />
<line x1="498.3" y1="66.6" x2="498.3" y2="87" stroke="#000" stroke-width="0.88" />
<line x1="524.6" y1="66.6" x2="524.6" y2="87" stroke="#000" stroke-width="0.88" />
<line x1="498.3" y1="67.5" x2="524.6" y2="67.5" stroke="#000" stroke-width="0.88" />
<text x="511.6" y="67" font-size="7.4" text-anchor="middle" font-weight="normal" fill="#000" stroke="#000" stroke-width="0" font-family="Liberation Sans, sans-serif" textLength="11" lengthAdjust="spacingAndGlyphs" >1.8</text>
<text x="540.4" y="68.6" font-size="4.6" text-anchor="start" font-weight="normal" fill="#333" stroke="#333" stroke-width="0" font-family="Liberation Sans, sans-serif" textLength="6.6" lengthAdjust="spacingAndGlyphs" >A1</text>
<line x1="468.7" y1="96.8" x2="488.3" y2="96.8" stroke="#000" stroke-width="0.88" />
<line x1="468.7" y1="123.4" x2="488.3" y2="123.4" stroke="#000" stroke-width="0.88" />
<line x1="469.5" y1="96.8" x2="469.5" y2="123.4" stroke="#000" stroke-width="0.88" />
<text x="468.8" y="110.2" font-size="7.4" text-anchor="middle" font-weight="normal" fill="#000" stroke="#000" stroke-width="0" font-family="Liberation Sans, sans-serif" textLength="11" lengthAdjust="spacingAndGlyphs" transform="rotate(-90 468.8 110.2)" >1.8</text>
<line x1="534.6" y1="113.3" x2="554.8" y2="113.3" stroke="#000" stroke-width="0.88" />
<line x1="534.6" y1="133.7" x2="554.8" y2="133.7" stroke="#000" stroke-width="0.88" />
<line x1="554" y1="113.3" x2="554" y2="133.7" stroke="#000" stroke-width="0.88" />
<text x="553.2" y="123.5" font-size="7.4" text-anchor="middle" font-weight="normal" fill="#000" stroke="#000" stroke-width="0" font-family="Liberation Sans, sans-serif" textLength="11" lengthAdjust="spacingAndGlyphs" transform="rotate(-90 553.2 123.5)" >1.4</text>
<line x1="514" y1="133.7" x2="514" y2="146.4" stroke="#000" stroke-width="0.88" />
<line x1="534.6" y1="133.7" x2="534.6" y2="146.4" stroke="#000" stroke-width="0.88" />
<line x1="514" y1="145.5" x2="534.6" y2="145.5" stroke="#000" stroke-width="0.88" />
<text x="524.3" y="144.7" font-size="7.4" text-anchor="middle" font-weight="normal" fill="#000" stroke="#000" stroke-width="0" font-family="Liberation Sans, sans-serif" textLength="11" lengthAdjust="spacingAndGlyphs" >1.4</text>
<text x="512.1" y="160.7" font-size="4.6" text-anchor="middle" font-weight="bold" fill="#000" stroke="#000" stroke-width="0" font-family="Liberation Sans, sans-serif" textLength="22.6" lengthAdjust="spacingAndGlyphs" >PAD(6:1)</text>
<line x1="500.2" y1="163" x2="523.6" y2="163" stroke="#000" stroke-width="1.05" />
</g>
<g id="s_pin">
<rect x="466" y="201.5" width="73.8" height="14.8" rx="0" stroke="#000" stroke-width="1.22" fill="none" />
<line x1="466" y1="212.9" x2="539.8" y2="212.9" stroke="#000" stroke-width="0.79" />
<line x1="448" y1="204.6" x2="466" y2="204.6" stroke="#000" stroke-width="0.79" />
<line x1="539.8" y1="204.6" x2="545.2" y2="204.6" stroke="#000" stroke-width="0.79" />
<line x1="448" y1="212.9" x2="466" y2="212.9" stroke="#000" stroke-width="0.79" />
<line x1="539.8" y1="212.9" x2="545.2" y2="212.9" stroke="#000" stroke-width="0.79" />
<path d="M445 200.2 Q441.2 208.9 445 216.4 Q449.6 208.9 445 200.2Z" stroke="#000" stroke-width="0.96" fill="none" />
<path d="M436.2 208.9 L444.6 200.6 M436.2 208.9 L444.6 216.2" stroke="#000" stroke-width="1.05" fill="none" />
<path d="M548 200.2 Q544.2 208.9 548 216.4 Q552.6 208.9 548 200.2Z" stroke="#000" stroke-width="0.96" fill="none" />
<path d="M555 208.9 L548.4 200.6 M555 208.9 L548.4 216.2" stroke="#000" stroke-width="1.05" fill="none" />
<line x1="435.8" y1="208.9" x2="556.4" y2="208.9" stroke="#000" stroke-width="1.75" />
<line x1="437.4" y1="208.9" x2="437.4" y2="227.8" stroke="#000" stroke-width="0.88" />
<line x1="554.8" y1="208.9" x2="554.8" y2="227.8" stroke="#000" stroke-width="0.88" />
<line x1="466" y1="216.3" x2="466" y2="222.8" stroke="#000" stroke-width="0.88" />
<line x1="539.8" y1="216.3" x2="539.8" y2="222.8" stroke="#000" stroke-width="0.88" />
<line x1="437.4" y1="221.4" x2="554.8" y2="221.4" stroke="#000" stroke-width="0.88" />
<line x1="437.4" y1="227" x2="554.8" y2="227" stroke="#000" stroke-width="0.88" />
<path d="M437.4 221.4 L439.2 220.9 L439.2 221.9 Z" fill="#000"/>
<path d="M466 221.4 L464.2 221.9 L464.2 220.9 Z" fill="#000"/>
<path d="M466 221.4 L467.8 220.9 L467.8 221.9 Z" fill="#000"/>
<path d="M539.8 221.4 L538 221.9 L538 220.9 Z" fill="#000"/>
<path d="M539.8 221.4 L541.6 220.9 L541.6 221.9 Z" fill="#000"/>
<path d="M554.8 221.4 L553 221.9 L553 220.9 Z" fill="#000"/>
<path d="M437.4 227 L439.2 226.5 L439.2 227.5 Z" fill="#000"/>
<path d="M554.8 227 L553 227.5 L553 226.5 Z" fill="#000"/>
<text x="444.8" y="220.2" font-size="2.8" text-anchor="start" font-weight="bold" fill="#000" stroke="#000" stroke-width="0" font-family="Liberation Sans, sans-serif" textLength="14" lengthAdjust="spacingAndGlyphs" >1.60±0.05</text>
<text x="503.3" y="220.2" font-size="2.8" text-anchor="middle" font-weight="bold" fill="#000" stroke="#000" stroke-width="0" font-family="Liberation Sans, sans-serif" textLength="6.4" lengthAdjust="spacingAndGlyphs" >4.00</text>
<text x="541" y="220.2" font-size="2.8" text-anchor="start" font-weight="bold" fill="#000" stroke="#000" stroke-width="0" font-family="Liberation Sans, sans-serif" textLength="13.2" lengthAdjust="spacingAndGlyphs" >0.40±0.05</text>
<text x="503.3" y="225.6" font-size="2.8" text-anchor="middle" font-weight="bold" fill="#000" stroke="#000" stroke-width="0" font-family="Liberation Sans, sans-serif" textLength="15.4" lengthAdjust="spacingAndGlyphs" >6.30±0.10</text>
<text x="430" y="205.6" font-size="2.4" text-anchor="start" font-weight="bold" fill="#000" stroke="#000" stroke-width="0" font-family="Liberation Sans, sans-serif" textLength="5.6" lengthAdjust="spacingAndGlyphs" >0.05</text>
<text x="555.4" y="206.4" font-size="2.4" text-anchor="start" font-weight="bold" fill="#000" stroke="#000" stroke-width="0" font-family="Liberation Sans, sans-serif" textLength="5.6" lengthAdjust="spacingAndGlyphs" >0.05</text>
<path d="M454.9 204.6 L462.9 193.1 L480.6 193.1" stroke="#000" stroke-width="0.88" fill="none" />
<text x="464.2" y="192.3" font-size="2.6" text-anchor="start" font-weight="bold" fill="#000" stroke="#000" stroke-width="0" font-family="Liberation Sans, sans-serif" textLength="13.6" lengthAdjust="spacingAndGlyphs" >ø0.60±0.02</text>
<path d="M489.8 201.5 L499 193.1 L517 193.1" stroke="#000" stroke-width="0.88" fill="none" />
<text x="499.8" y="192.3" font-size="2.6" text-anchor="start" font-weight="bold" fill="#000" stroke="#000" stroke-width="0" font-family="Liberation Sans, sans-serif" textLength="13.4" lengthAdjust="spacingAndGlyphs" >ø0.78±0.02</text>
<path d="M541.8 204.4 L538.2 193.1 L523.6 193.1" stroke="#000" stroke-width="0.88" fill="none" />
<text x="524" y="192.3" font-size="2.6" text-anchor="start" font-weight="bold" fill="#000" stroke="#000" stroke-width="0" font-family="Liberation Sans, sans-serif" textLength="13.8" lengthAdjust="spacingAndGlyphs" >ø0.60±0.02</text>
<line x1="481.8" y1="192" x2="483.4" y2="192" stroke="#000" stroke-width="0.88" />
<line x1="518" y1="192" x2="519.6" y2="192" stroke="#000" stroke-width="0.88" />
<line x1="539.6" y1="192" x2="541" y2="192" stroke="#000" stroke-width="0.88" />
<text x="505.3" y="235" font-size="6.3" text-anchor="middle" font-weight="normal" fill="#000" stroke="#000" stroke-width="0" font-family="Liberation Sans, sans-serif" textLength="43.5" lengthAdjust="spacingAndGlyphs" >DP-078BB-6.3</text>
</g>
<g id="s_side">
<line x1="34" y1="226.9" x2="168.5" y2="226.9" stroke="#000" stroke-width="0.88" />
<line x1="34" y1="332.1" x2="85.6" y2="332.1" stroke="#000" stroke-width="0.88" />

<line x1="35" y1="226.9" x2="35" y2="297.2" stroke="#000" stroke-width="0.96" />
<line x1="35" y1="315.4" x2="35" y2="331.8" stroke="#000" stroke-width="0.96" />
<path d="M35 226.9 L35.85 230.1 L34.15 230.1 Z" fill="#000"/>
<path d="M35 331.8 L34.15 328.6 L35.85 328.6 Z" fill="#000"/>
<text x="37.2" y="306.3" font-size="6.3" text-anchor="middle" font-weight="normal" fill="#000" stroke="#000" stroke-width="0.05" font-family="Liberation Sans, sans-serif" textLength="16.7" lengthAdjust="spacingAndGlyphs" transform="rotate(-90 37.2 306.3)" >44.00</text>
<line x1="47.3" y1="286" x2="47.3" y2="300.8" stroke="#000" stroke-width="0.96" />
<line x1="47.3" y1="319" x2="47.3" y2="331.8" stroke="#000" stroke-width="0.96" />
<path d="M47.3 286 L48.15 289.2 L46.45 289.2 Z" fill="#000"/>
<path d="M47.3 331.8 L46.45 328.6 L48.15 328.6 Z" fill="#000"/>
<text x="49.5" y="309.9" font-size="6.3" text-anchor="middle" font-weight="normal" fill="#000" stroke="#000" stroke-width="0.05" font-family="Liberation Sans, sans-serif" textLength="16.7" lengthAdjust="spacingAndGlyphs" transform="rotate(-90 49.5 309.9)" >19.28</text>
<line x1="59.7" y1="295.6" x2="59.7" y2="303.7" stroke="#000" stroke-width="0.96" />
<line x1="59.7" y1="321.9" x2="59.7" y2="331.8" stroke="#000" stroke-width="0.96" />
<path d="M59.7 295.6 L60.55 298.8 L58.85 298.8 Z" fill="#000"/>
<path d="M59.7 331.8 L58.85 328.6 L60.55 328.6 Z" fill="#000"/>
<text x="61.9" y="312.8" font-size="6.3" text-anchor="middle" font-weight="normal" fill="#000" stroke="#000" stroke-width="0.05" font-family="Liberation Sans, sans-serif" textLength="16.7" lengthAdjust="spacingAndGlyphs" transform="rotate(-90 61.9 312.8)" >15.20</text>
<line x1="71.2" y1="311.4" x2="71.2" y2="313.9" stroke="#000" stroke-width="0.96" />
<line x1="71.2" y1="328.9" x2="71.2" y2="331.8" stroke="#000" stroke-width="0.96" />
<path d="M71.2 311.4 L72.05 314.6 L70.35 314.6 Z" fill="#000"/>
<path d="M71.2 331.8 L70.35 328.6 L72.05 328.6 Z" fill="#000"/>
<text x="73.4" y="321.4" font-size="6.3" text-anchor="middle" font-weight="normal" fill="#000" stroke="#000" stroke-width="0.05" font-family="Liberation Sans, sans-serif" textLength="13.5" lengthAdjust="spacingAndGlyphs" transform="rotate(-90 73.4 321.4)" >8.60</text>
<line x1="46.4" y1="286" x2="76.4" y2="286" stroke="#000" stroke-width="0.88" />
<line x1="58.8" y1="295.6" x2="85.6" y2="295.6" stroke="#000" stroke-width="0.88" />
<line x1="70.4" y1="311.4" x2="85.6" y2="311.4" stroke="#000" stroke-width="0.88" />
<line x1="85.6" y1="215.8" x2="85.6" y2="296.1" stroke="#000" stroke-width="0.88" />
<line x1="172.7" y1="215.8" x2="172.7" y2="227.6" stroke="#000" stroke-width="0.88" />
<line x1="85.6" y1="217.1" x2="120.6" y2="217.1" stroke="#000" stroke-width="0.96" />
<line x1="140.8" y1="217.1" x2="172.7" y2="217.1" stroke="#000" stroke-width="0.96" />
<path d="M85.6 217.1 L88.3 216.25 L88.3 217.95 Z" fill="#000"/>
<path d="M172.7 217.1 L170 217.95 L170 216.25 Z" fill="#000"/>
<text x="130.7" y="219.6" font-size="6.5" text-anchor="middle" font-weight="normal" fill="#000" stroke="#000" stroke-width="0.05" font-family="Liberation Sans, sans-serif" textLength="19.2" lengthAdjust="spacingAndGlyphs" >&lt;36.5&gt;</text>
<path d="M151 239.8 L146.9 304" stroke="#000" stroke-width="1.57" fill="none" />
<path d="M163.0 240.0 Q166.2 240.2 166.2 242.4 L160.6 311.0" stroke="#000" stroke-width="1.57" fill="none" />
<path d="M151.0 240.0 L163.2 240.0" stroke="#000" stroke-width="1.05" fill="none" />
<circle cx="161.2" cy="244.8" r="2.6" stroke="#000" stroke-width="1.05" fill="none" />
<path d="M168.5 226.8 L172.2 226.8 L170.3 257.5 L166.2 257.5 L166.3 255.0 L170.4 255.0" stroke="#000" stroke-width="1.05" fill="none" />
<path d="M168.5 226.8 L168.2 232.0 Q167.8 237.0 163.5 237.6 L141.5 237.0 Q139.4 237.2 139.5 239.5 L139.8 242.6 Q140.4 244.6 142.2 244.4 Q143.6 244.0 143.5 242.4 L143.4 240.1 L151.0 240.0" stroke="#000" stroke-width="1.22" fill="none" />
<path d="M167.6 239.0 L166.3 255.0 M168.4 230.0 L172.0 230.0" stroke="#000" stroke-width="0.88" fill="none" />
<path d="M149.8 260.7 L155.8 260.7 L153.2 289.2 L148 289.2Z" stroke="#000" stroke-width="1.05" fill="#fff" />
<path d="M149 266.2 L146.4 266.2 L145.2 283.8 L148.2 283.8" stroke="#000" stroke-width="0.96" fill="none" />
<path d="M147.6 268.6 L146.6 268.6 L146.1 276 L147.2 276" stroke="#000" stroke-width="1.57" fill="none" />
<path d="M152.4 270.8 L153.9 270.8 L153 284.6 L151.4 284.6Z" stroke="#000" stroke-width="0.79" fill="none" />
<circle cx="169.2" cy="239.3" r="1.5" stroke="#000" stroke-width="0" fill="#000" />
<line x1="169.2" y1="239.3" x2="185" y2="239.3" stroke="#000" stroke-width="0.88" />
<circle cx="157.2" cy="257" r="1.5" stroke="#000" stroke-width="0" fill="#000" />
<line x1="157.2" y1="257" x2="185" y2="257" stroke="#000" stroke-width="0.88" />
<line x1="147.6" y1="270.2" x2="185" y2="270.2" stroke="#000" stroke-width="0.88" />
<path d="M159.4 302.4 L164.9 298.2 L185 298.2" stroke="#000" stroke-width="0.88" fill="none" />
<circle cx="159.3" cy="302.5" r="1" stroke="#000" stroke-width="0" fill="#000" />
<path d="M150.2 247.0 A50.1 50.1 0 0 0 97.25 296.0" stroke="#000" stroke-width="0.96" fill="none" />
<text x="111.2" y="260.8" font-size="4.2" text-anchor="middle" font-weight="normal" fill="#222" stroke="#222" stroke-width="0.12" font-family="Liberation Sans, sans-serif" transform="rotate(-46 111.2 260.8)" >94°</text>
<path d="M136.0 254.8 L127.5 255.4 L129.4 258.4 Q119.4 264.6 113.6 272.0 L109.2 270.0 L108.0 278.6 L116.6 275.0 L115.0 273.4 Q121.0 266.0 130.6 260.2 L131.6 262.6 Z" stroke="#000" stroke-width="0.96" fill="#fff" />
<line x1="85.6" y1="296.1" x2="157.3" y2="296.1" stroke="#000" stroke-width="1.57" />
<line x1="157.3" y1="296.1" x2="157.3" y2="331.8" stroke="#000" stroke-width="1.4" />
<line x1="85.6" y1="296.1" x2="85.6" y2="331.8" stroke="#000" stroke-width="1.4" />
<line x1="85.6" y1="310.6" x2="157.3" y2="310.6" stroke="#000" stroke-width="1.75" />
<line x1="87.8" y1="310.6" x2="87.8" y2="331.8" stroke="#000" stroke-width="0.79" />
<line x1="155.4" y1="310.6" x2="155.4" y2="331.8" stroke="#000" stroke-width="0.79" />
<line x1="85.6" y1="329" x2="157.3" y2="329" stroke="#000" stroke-width="1.22" />
<line x1="85.6" y1="331.8" x2="157.3" y2="331.8" stroke="#000" stroke-width="1.4" />
<path d="M146.9 304.0 Q147.0 309.6 152.2 309.8 Q157.0 309.6 157.3 304.0" stroke="#000" stroke-width="1.57" fill="#fff" />
<circle cx="152.2" cy="305.6" r="2.7" stroke="#000" stroke-width="1.22" fill="#fff" />
<line x1="157.3" y1="311" x2="160.6" y2="311" stroke="#000" stroke-width="1.4" />
<path d="M77 286 L105.4 295.4" stroke="#000" stroke-width="1.22" fill="none" />
<path d="M77 286 L74.8 289.4 L83 293 L78.4 319.6 L82 321 L85 296.2" stroke="#000" stroke-width="1.22" fill="none" />
<path d="M79.4 287.2 L77.6 290.6" stroke="#000" stroke-width="0.88" fill="none" />
<rect x="82.5" y="317" width="3.1" height="4" rx="0" stroke="#000" stroke-width="0.88" fill="none" />
<rect x="86.6" y="297.4" width="7.8" height="10" rx="1.8" stroke="#000" stroke-width="0.88" fill="#fff" />
<circle cx="90.3" cy="301.3" r="2.9" stroke="#000" stroke-width="0.73" fill="#fff" />
<circle cx="90.3" cy="301.3" r="1.5" stroke="#000" stroke-width="0.56" fill="none" />
<path d="M94.2 298.2 L97.0 297.1 L105.7 297.1 L105.7 301.7 L102.2 301.7 L102.2 304.2 L103.6 304.2 L103.6 307.6 L87.0 307.6" stroke="#000" stroke-width="1.4" fill="none" />
<line x1="88" y1="309" x2="103.4" y2="309" stroke="#000" stroke-width="0.88" />
<path d="M97.2 295.6 L100.2 284" stroke="#000" stroke-width="0.96" fill="none" />
<path d="M89.3 312 L94.5 313.05 L89.3 314.1 L94.5 315.15 L89.3 316.2 L94.5 317.25 L89.3 318.3 L94.5 319.35 L89.3 320.4 L94.5 321.45 L89.3 322.5 L94.5 323.55 L89.3 324.6 L94.5 325.65 L89.3 326.7 L94.5 327.75" stroke="#000" stroke-width="0.73" fill="none" />
<line x1="89.3" y1="312" x2="89.3" y2="328.6" stroke="#000" stroke-width="0.7" />
<line x1="94.5" y1="312" x2="94.5" y2="328.6" stroke="#000" stroke-width="0.7" />
<path d="M149.2 312 L154.6 313.05 L149.2 314.1 L154.6 315.15 L149.2 316.2 L154.6 317.25 L149.2 318.3 L154.6 319.35 L149.2 320.4 L154.6 321.45 L149.2 322.5 L154.6 323.55 L149.2 324.6 L154.6 325.65 L149.2 326.7 L154.6 327.75" stroke="#000" stroke-width="0.73" fill="none" />
<line x1="149.2" y1="312" x2="149.2" y2="328.6" stroke="#000" stroke-width="0.7" />
<line x1="154.6" y1="312" x2="154.6" y2="328.6" stroke="#000" stroke-width="0.7" />
<line x1="95" y1="325.2" x2="105" y2="325.2" stroke="#555" stroke-width="1.22" />
<line x1="138.6" y1="325.2" x2="149" y2="325.2" stroke="#555" stroke-width="1.22" />
<clipPath id="dc"><circle cx="121.3" cy="323.1" r="16.4"/></clipPath>
<circle cx="121.3" cy="323.1" r="16.4" stroke="#000" stroke-width="1.05" fill="#fff" />
<g clip-path="url(#dc)">
<rect x="104" y="310.8" width="36" height="20.8" fill="#0c0c0c"/>
<rect x="104" y="311.6" width="36" height="4.6" fill="url(#hx2)"/>
<rect x="104" y="327.8" width="36" height="3.8" fill="url(#hx2)"/>
<line x1="104" y1="331.8" x2="140" y2="331.8" stroke="#000" stroke-width="1.05" />
<rect x="112.7" y="318.2" width="1.0" height="8.9" fill="#fff"/>
<rect x="114.95" y="318.2" width="1.0" height="8.9" fill="#fff"/>
<rect x="117.2" y="318.2" width="1.0" height="8.9" fill="#fff"/>
<rect x="119.45" y="318.2" width="1.0" height="8.9" fill="#fff"/>
<rect x="121.7" y="318.2" width="1.0" height="8.9" fill="#fff"/>
<rect x="123.95" y="318.2" width="1.0" height="8.9" fill="#fff"/>
<rect x="126.2" y="318.2" width="1.0" height="8.9" fill="#fff"/>
<rect x="128.45" y="318.2" width="1.0" height="8.9" fill="#fff"/>
<rect x="130.7" y="318.2" width="1.0" height="8.9" fill="#fff"/>
<rect x="109" y="313.4" width="25" height="0.6" fill="#bbb"/>
<rect x="109" y="316.6" width="25" height="0.5" fill="#999"/>
</g>
<rect x="107.4" y="305.2" width="28.6" height="5.2" rx="0" stroke="#000" stroke-width="0.96" fill="#fff" />
<line x1="109" y1="307.4" x2="135" y2="307.4" stroke="#000" stroke-width="0.61" stroke-dasharray="4 1.6"/>
<line x1="109" y1="309" x2="135" y2="309" stroke="#000" stroke-width="0.61" stroke-dasharray="2.5 2"/>
<line x1="104.5" y1="310.6" x2="138.2" y2="310.6" stroke="#000" stroke-width="1.75" />
<circle cx="107.3" cy="319.4" r="1" stroke="#000" stroke-width="0.61" fill="#fff" />
<path d="M116 309 L118.4 305.6 M121 309 L123.4 305.6 M126 309 L128.4 305.6" stroke="#000" stroke-width="0.7" fill="none" />
<rect x="98.4" y="329" width="3.2" height="2.8" rx="0" stroke="#000" stroke-width="0.88" fill="none" />
<rect x="142.4" y="329" width="3.5" height="2.8" rx="0" stroke="#000" stroke-width="0.88" fill="none" />
<path d="M86.9 331.8 L86.9 334.6 Q86.9 336.5 88.7 336.5 L93.9 336.5 Q95.7 336.5 95.7 334.6 L95.7 331.8" stroke="#000" stroke-width="1.05" fill="#fff" />
<path d="M89.70000000000002 336.4 L90.30000000000001 334.6 L92.30000000000001 334.6 L92.9 336.4" stroke="#000" stroke-width="0.79" fill="none" />
<path d="M147.5 331.8 L147.5 334.6 Q147.5 336.5 149.3 336.5 L154.39999999999998 336.5 Q156.2 336.5 156.2 334.6 L156.2 331.8" stroke="#000" stroke-width="1.05" fill="#fff" />
<path d="M150.25 336.4 L150.85 334.6 L152.85 334.6 L153.45 336.4" stroke="#000" stroke-width="0.79" fill="none" />
<line x1="139" y1="315.4" x2="184.6" y2="315.4" stroke="#000" stroke-width="0.96" />
<line x1="138.4" y1="319.7" x2="177.4" y2="319.7" stroke="#000" stroke-width="0.96" />
<line x1="139" y1="323.2" x2="184.6" y2="323.2" stroke="#000" stroke-width="0.96" />
<line x1="139" y1="326.4" x2="177.4" y2="326.4" stroke="#000" stroke-width="0.96" />
<path d="M140.6 311.2 L141.8 313.2 L143 311.2Z" stroke="#000" stroke-width="0.53" fill="#000" />
<circle cx="187.2" cy="239.2" r="2.5" stroke="#000" stroke-width="0.88" fill="#fff" /><text x="187.2" y="240.6" font-size="4.0" text-anchor="middle" font-weight="bold" fill="#000" stroke="#000" stroke-width="0.25" font-family="Liberation Sans, sans-serif" >1</text>
<circle cx="187.2" cy="257" r="2.5" stroke="#000" stroke-width="0.88" fill="#fff" /><text x="187.2" y="258.4" font-size="4.0" text-anchor="middle" font-weight="bold" fill="#000" stroke="#000" stroke-width="0.25" font-family="Liberation Sans, sans-serif" >2</text>
<circle cx="186.9" cy="270.2" r="2.5" stroke="#000" stroke-width="0.88" fill="#fff" /><text x="186.9" y="271.6" font-size="4.0" text-anchor="middle" font-weight="bold" fill="#000" stroke="#000" stroke-width="0.25" font-family="Liberation Sans, sans-serif" >3</text>
<circle cx="187.2" cy="298.2" r="2.5" stroke="#000" stroke-width="0.88" fill="#fff" /><text x="187.2" y="299.6" font-size="4.0" text-anchor="middle" font-weight="bold" fill="#000" stroke="#000" stroke-width="0.25" font-family="Liberation Sans, sans-serif" >8</text>
<circle cx="187" cy="315.4" r="2.5" stroke="#000" stroke-width="0.88" fill="#fff" /><text x="187" y="316.8" font-size="4.0" text-anchor="middle" font-weight="bold" fill="#000" stroke="#000" stroke-width="0.25" font-family="Liberation Sans, sans-serif" >5</text>
<circle cx="179.6" cy="319.7" r="2.5" stroke="#000" stroke-width="0.88" fill="#fff" /><text x="179.6" y="321.1" font-size="4.0" text-anchor="middle" font-weight="bold" fill="#000" stroke="#000" stroke-width="0.25" font-family="Liberation Sans, sans-serif" >4</text>
<circle cx="187" cy="323.2" r="2.5" stroke="#000" stroke-width="0.88" fill="#fff" /><text x="187" y="324.6" font-size="4.0" text-anchor="middle" font-weight="bold" fill="#000" stroke="#000" stroke-width="0.25" font-family="Liberation Sans, sans-serif" >7</text>
<circle cx="179.6" cy="326.4" r="2.5" stroke="#000" stroke-width="0.88" fill="#fff" /><text x="179.6" y="327.8" font-size="4.0" text-anchor="middle" font-weight="bold" fill="#000" stroke="#000" stroke-width="0.25" font-family="Liberation Sans, sans-serif" >6</text>
<path d="M153.8 334.9 L157.8 339.4 L176.8 339.4" stroke="#000" stroke-width="0.88" fill="none" />
<text x="161.4" y="338.2" font-size="3.2" text-anchor="start" font-weight="normal" fill="#333" stroke="#333" stroke-width="0" font-family="Liberation Sans, sans-serif" textLength="9.2" lengthAdjust="spacingAndGlyphs" font-style="italic">4-M2</text>
<line x1="99.8" y1="331.8" x2="99.8" y2="346.8" stroke="#000" stroke-width="0.88" />
<line x1="143.3" y1="331.8" x2="143.3" y2="346.8" stroke="#000" stroke-width="0.88" />
<line x1="99.8" y1="345.5" x2="112.4" y2="345.5" stroke="#000" stroke-width="0.96" />
<line x1="130.2" y1="345.5" x2="143.3" y2="345.5" stroke="#000" stroke-width="0.96" />
<path d="M99.8 345.5 L102.5 344.65 L102.5 346.35 Z" fill="#000"/>
<path d="M143.3 345.5 L140.6 346.35 L140.6 344.65 Z" fill="#000"/>
<text x="121.3" y="347.9" font-size="6.8" text-anchor="middle" font-weight="normal" fill="#000" stroke="#000" stroke-width="0.05" font-family="Liberation Sans, sans-serif" textLength="16.3" lengthAdjust="spacingAndGlyphs" >18.00</text>
<line x1="91.4" y1="336.5" x2="91.4" y2="356.6" stroke="#000" stroke-width="0.88" />
<line x1="151.6" y1="336.5" x2="151.6" y2="356.6" stroke="#000" stroke-width="0.88" />
<line x1="91.4" y1="355.1" x2="113" y2="355.1" stroke="#000" stroke-width="0.96" />
<line x1="130.6" y1="355.1" x2="151.6" y2="355.1" stroke="#000" stroke-width="0.96" />
<path d="M91.4 355.1 L94.1 354.25 L94.1 355.95 Z" fill="#000"/>
<path d="M151.6 355.1 L148.9 355.95 L148.9 354.25 Z" fill="#000"/>
<text x="121.6" y="357.6" font-size="6.8" text-anchor="middle" font-weight="normal" fill="#000" stroke="#000" stroke-width="0.05" font-family="Liberation Sans, sans-serif" textLength="16.4" lengthAdjust="spacingAndGlyphs" >25.00</text>
<text x="125.65" y="370.8" font-size="5.5" text-anchor="middle" font-weight="bold" fill="#000" stroke="#000" stroke-width="0" font-family="Liberation Sans, sans-serif" textLength="54.3" lengthAdjust="spacingAndGlyphs" >SOCKET RAGHT VIEW</text>
<line x1="98.4" y1="373.6" x2="153" y2="373.6" stroke="#000" stroke-width="1.14" />
<text x="30.3" y="392.4" font-size="4.6" font-style="italic" text-anchor="start" fill="#111" stroke="#111" stroke-width="0.2" font-family="'Liberation Serif', 'Noto Serif CJK SC', serif" textLength="150.4" lengthAdjust="spacing">提示：图纸用于外观、结构、局部剖视及所用芯片均为结构示意，实际结</text>
<text x="30.3" y="399.6" font-size="4.6" font-style="italic" text-anchor="start" fill="#111" stroke="#111" stroke-width="0.2" font-family="'Liberation Serif', 'Noto Serif CJK SC', serif" textLength="131.6" lengthAdjust="spacing">构请以实物为准。若有特殊安装使用环境请及时与我司沟通说明</text>
</g>
<g id="s_iso">
<path d="M244.17 307.5 L245 319.17 L250.83 321.67 L255.83 319.67 L271.67 329.17 L280.5 328 L329.17 310.83 L328.33 301.67 L290 289.17Z" stroke="#000" stroke-width="1.08" fill="#fff" stroke-linejoin="round" stroke-linecap="round"/>
<path d="M244.17 307.5 L250.33 305 L256.67 307.33 L250.33 310.17Z" stroke="#000" stroke-width="1.08" fill="none" stroke-linejoin="round" stroke-linecap="round"/>
<path d="M250.33 310.17 L250.83 321.67" stroke="#000" stroke-width="1.08" fill="none" stroke-linejoin="round" stroke-linecap="round"/>
<path d="M256.67 307.33 L256.67 311" stroke="#000" stroke-width="1.08" fill="none" stroke-linejoin="round" stroke-linecap="round"/>
<path d="M246.67 308.33 L247 319.67" stroke="#000" stroke-width="0.7" fill="none" stroke-linejoin="round" stroke-linecap="round"/>
<path d="M248.33 309 L248.67 320.33" stroke="#000" stroke-width="0.7" fill="none" stroke-linejoin="round" stroke-linecap="round"/>
<path d="M248.00 306.67 Q250.33 305.67 251.83 306.17 Q253.33 306.67 252.00 307.33 L250.67 308.00Z" stroke="#000" stroke-width="1.93" fill="#222" stroke-linejoin="round" stroke-linecap="round"/>
<path d="M256.67 311 L266.67 315 L270.83 317.5" stroke="#000" stroke-width="1.08" fill="none" stroke-linejoin="round" stroke-linecap="round"/>
<path d="M255.83 319.67 L256.67 311" stroke="#000" stroke-width="0.88" fill="none" stroke-linejoin="round" stroke-linecap="round"/>
<path d="M256.67 313.67 L267.5 318 L270.83 319.67" stroke="#000" stroke-width="0.88" fill="none" stroke-linejoin="round" stroke-linecap="round"/>
<path d="M256.33 317 L268.33 322" stroke="#000" stroke-width="0.88" fill="none" stroke-linejoin="round" stroke-linecap="round"/>
<path d="M258.33 315 L265 313.67 L270 315.5" stroke="#000" stroke-width="0.88" fill="none" stroke-linejoin="round" stroke-linecap="round"/>
<path d="M270.83 317.5 L275.83 314.33 L282 316.5 L280 318.67 L277 320Z" stroke="#000" stroke-width="1.08" fill="none" stroke-linejoin="round" stroke-linecap="round"/>
<path d="M270.83 317.5 L271.67 329.17" stroke="#000" stroke-width="1.08" fill="none" stroke-linejoin="round" stroke-linecap="round"/>
<path d="M280 318.67 L280.5 328" stroke="#000" stroke-width="1.08" fill="none" stroke-linejoin="round" stroke-linecap="round"/>
<path d="M273.33 318.67 L274 328.83" stroke="#000" stroke-width="0.7" fill="none" stroke-linejoin="round" stroke-linecap="round"/>
<path d="M275.83 319.67 L276.5 328.67" stroke="#000" stroke-width="0.7" fill="none" stroke-linejoin="round" stroke-linecap="round"/>
<path d="M273.33 316.33 Q276.00 315.00 277.67 315.67 Q279.33 316.33 278.00 317.00 L276.67 317.67Z" stroke="#000" stroke-width="1.93" fill="#222" stroke-linejoin="round" stroke-linecap="round"/>
<path d="M282 316.5 L328.33 301.67" stroke="#000" stroke-width="1.08" fill="none" stroke-linejoin="round" stroke-linecap="round"/>
<path d="M280 318.67 L290 315.83" stroke="#000" stroke-width="0.88" fill="none" stroke-linejoin="round" stroke-linecap="round"/>
<path d="M302 309.5 L302.33 313.67 L304.33 313.33 L304 308.83" stroke="#000" stroke-width="0.96" fill="none" stroke-linejoin="round" stroke-linecap="round"/>
<path d="M256.67 307.33 L262.5 305 L261.67 302.5 L285 295 L288.67 296.33 L288.67 301.67 L297.5 305" stroke="#000" stroke-width="1.05" fill="none" stroke-linejoin="round" stroke-linecap="round"/>
<path d="M262.5 305 L270 302.5 L275.83 304.67 L278.33 303.67" stroke="#000" stroke-width="0.88" fill="none" stroke-linejoin="round" stroke-linecap="round"/>
<path d="M265 304.33 L268.67 300 L283.67 295.67" stroke="#000" stroke-width="0.88" fill="none" stroke-linejoin="round" stroke-linecap="round"/>
<path d="M275.83 314.33 L281.67 312.5 L300.83 307 L310 304.67" stroke="#000" stroke-width="1.05" fill="none" stroke-linejoin="round" stroke-linecap="round"/>
<path d="M278.33 309.17 L288.33 306.33 L296.67 309.17 L286.67 312Z" stroke="#000" stroke-width="1.05" fill="none" stroke-linejoin="round" stroke-linecap="round"/>
<path d="M266.67 312.5 L278.33 309.17" stroke="#000" stroke-width="0.88" fill="none" stroke-linejoin="round" stroke-linecap="round"/>
<path d="M260 312.5 L268.33 309.67 L276.67 306.67 L288.33 302.5" stroke="#000" stroke-width="0.88" fill="none" stroke-linejoin="round" stroke-linecap="round"/>
<path d="M285 295.83 L285 302.5 L273.33 306" stroke="#000" stroke-width="0.88" fill="none" stroke-linejoin="round" stroke-linecap="round"/>
<path d="M296.67 298.33 L305.83 301.67 L303.33 303.67 L310 305.83 L318.33 303.33" stroke="#000" stroke-width="1.05" fill="none" stroke-linejoin="round" stroke-linecap="round"/>
<path d="M298.00 300.17 Q300.33 299.17 301.50 299.67 Q302.67 300.17 302.17 300.75 Q301.67 301.33 300.33 301.33 L299.00 301.33Z" stroke="#000" stroke-width="0.88" fill="none" stroke-linejoin="round" stroke-linecap="round"/>
<path d="M290 289.17 L244.17 307.5" stroke="#000" stroke-width="1.22" fill="none" stroke-linejoin="round" stroke-linecap="round"/>
<path d="M261.67 302.5 L255.83 304.67" stroke="#000" stroke-width="0.88" fill="none" stroke-linejoin="round" stroke-linecap="round"/>
<path d="M258.33 308.33 L265 306.33 L265.33 309.33" stroke="#000" stroke-width="0.88" fill="none" stroke-linejoin="round" stroke-linecap="round"/>
<path d="M294.23 220.82 L302.38 219.38 L311.49 219.86 L313.12 214.11 L315.33 209.6 L318.68 209.31 L331.62 213.82 L334.5 216.51 L333.83 227.05 L335.94 230.7 L337.86 232.8" stroke="#000" stroke-width="0.02" fill="none" stroke-linejoin="round" stroke-linecap="round"/>
<path d="M294.23 220.82 L302.38 219.38 L311.49 219.86 L313.12 214.11 L315.33 209.6 L318.68 209.31 L331.62 213.82 L334.5 216.51 L333.83 227.53 L335.94 230.7 L337.86 232.8 L337.08 245 L331.2 297.04 L330.36 299.73 L317.77 298.72 L316.09 295.36 L314.41 286.97 L301.82 281.09 L295.44 282.77 L294.77 294.02 L289.23 290.32 L288.39 271.86Z" stroke="#000" stroke-width="1.08" fill="#fff" stroke-linejoin="round"/>
<path d="M311.49 219.86 Q313.12 214.11 313.41 212.19 Q313.70 210.27 315.23 209.75 Q316.76 209.22 318.20 209.51 L319.64 209.79" stroke="#000" stroke-width="1.08" fill="none" stroke-linejoin="round" stroke-linecap="round"/>
<path d="M314.37 215.07 L330.19 220.82" stroke="#000" stroke-width="0.96" fill="none" stroke-linejoin="round" stroke-linecap="round"/>
<path d="M311.49 220.05 Q319.64 223.22 323.71 224.94 Q327.79 226.67 328.99 225.42 Q330.19 224.18 330.76 221.78 Q331.34 219.38 331.62 216.98 L331.91 214.59" stroke="#000" stroke-width="1.08" fill="none" stroke-linejoin="round" stroke-linecap="round"/>
<path d="M331.62 213.82 Q333.06 215.74 332.87 217.56 Q332.68 219.38 332.15 221.78 Q331.62 224.18 330.43 225.71 L329.23 227.24" stroke="#000" stroke-width="0.88" fill="none" stroke-linejoin="round" stroke-linecap="round"/>
<path d="M294.23 220.82 L295.19 223.22 L311.97 228.3 L320.6 228.01 L327.79 226.86" stroke="#000" stroke-width="1.08" fill="none" stroke-linejoin="round" stroke-linecap="round"/>
<path d="M295.19 223.22 L296.15 228.97 L311.49 235.2 L311.97 228.3" stroke="#000" stroke-width="1.08" fill="none" stroke-linejoin="round" stroke-linecap="round"/>
<path d="M297.11 225.61 L311.01 231.08" stroke="#000" stroke-width="0.88" fill="none" stroke-linejoin="round" stroke-linecap="round"/>
<path d="M313.41 228.49 L313.41 232.8 L316.76 232.04 L317.91 233.38 L319.45 231.85 L321.08 230.12" stroke="#000" stroke-width="0.96" fill="none" stroke-linejoin="round" stroke-linecap="round"/>
<path d="M320.6 228.01 L326.35 230.12 L328.27 233.76" stroke="#000" stroke-width="1.08" fill="none" stroke-linejoin="round" stroke-linecap="round"/>
<path d="M326.35 230.12 L335.94 230.7" stroke="#000" stroke-width="1.08" fill="none" stroke-linejoin="round" stroke-linecap="round"/>
<ellipse cx="334.02" cy="235.49" rx="1.6" ry="2.7" transform="rotate(12 334.02 235.49)" fill="none" stroke="#000" stroke-width="1.75"/>
<path d="M328.27 233.76 L325.87 244.98" stroke="#000" stroke-width="1.08" fill="none" stroke-linejoin="round" stroke-linecap="round"/>
<path d="M327.84 231.86 L323.98 275" stroke="#000" stroke-width="1.08" fill="none" stroke-linejoin="round" stroke-linecap="round"/>
<path d="M325.32 251.71 L322.81 281.09 L320.29 297.04" stroke="#000" stroke-width="1.08" fill="none" stroke-linejoin="round" stroke-linecap="round"/>
<path d="M292.59 241.09 L325.32 253.68" stroke="#000" stroke-width="1.4" fill="none" stroke-linejoin="round" stroke-linecap="round"/>
<path d="M293.09 243.27 L324.99 255.7" stroke="#000" stroke-width="0.88" fill="none" stroke-linejoin="round" stroke-linecap="round"/>
<path d="M289.23 270.18 L322.81 281.09" stroke="#000" stroke-width="1.4" fill="none" stroke-linejoin="round" stroke-linecap="round"/>
<path d="M290.07 272.19 L321.97 282.94" stroke="#000" stroke-width="0.88" fill="none" stroke-linejoin="round" stroke-linecap="round"/>
<path d="M325.32 253.35 L331.2 250.32" stroke="#000" stroke-width="1.05" fill="none" stroke-linejoin="round" stroke-linecap="round"/>
<path d="M331.2 250.88 L327.84 280.25 L322.81 281.09" stroke="#000" stroke-width="1.05" fill="none" stroke-linejoin="round" stroke-linecap="round"/>
<path d="M329.02 253.39 L326.16 278.57" stroke="#000" stroke-width="0.79" fill="none" stroke-linejoin="round" stroke-linecap="round"/>
<ellipse cx="295.11" cy="246.97" rx="1.6" ry="2.6" transform="rotate(15 295.11 246.97)" fill="none" stroke="#000" stroke-width="1.575"/>
<ellipse cx="321.97" cy="255.36" rx="1.7" ry="2.7" transform="rotate(15 321.97 255.36)" fill="none" stroke="#000" stroke-width="1.575"/>
<ellipse cx="293.09" cy="265.43" rx="1.7" ry="2.7" transform="rotate(15 293.09 265.43)" fill="none" stroke="#000" stroke-width="1.575"/>
<ellipse cx="320.29" cy="274.38" rx="1.7" ry="2.7" transform="rotate(15 320.29 274.38)" fill="none" stroke="#000" stroke-width="1.575"/>
<ellipse cx="324.99" cy="295.36" rx="1.5" ry="2.3" transform="rotate(15 324.99 295.36)" fill="none" stroke="#000" stroke-width="1.575"/>
<ellipse cx="305.52" cy="260.40" rx="7.0" ry="8.0" transform="rotate(-18 305.52 260.40)" fill="none" stroke="#000" stroke-width="1.2249999999999999"/>
<ellipse cx="305.68" cy="260.56" rx="5.4" ry="6.3" transform="rotate(-18 305.68 260.56)" fill="none" stroke="#000" stroke-width="0.9625000000000001"/>
<path d="M302.66 258.72 L306.86 257.38 L308.54 262.08 L304.34 263.75Z" stroke="#000" stroke-width="0.96" fill="none" stroke-linejoin="round" stroke-linecap="round"/>
<path d="M295.11 293.68 Q295.11 278.57 295.95 276.73 Q296.79 274.88 299.31 275.47 Q301.82 276.06 308.12 278.57 Q314.41 281.09 315.00 284.03 Q315.59 286.97 315.84 291.16 L316.09 295.36" stroke="#000" stroke-width="1.05" fill="none" stroke-linejoin="round" stroke-linecap="round"/>
<path d="M292.59 272.7 L293.09 292" stroke="#000" stroke-width="0.79" fill="none" stroke-linejoin="round" stroke-linecap="round"/>
<path d="M317.77 283.61 L318.95 297.38" stroke="#000" stroke-width="0.88" fill="none" stroke-linejoin="round" stroke-linecap="round"/>
<path d="M300.98 282.6 L314.41 287.81" stroke="#000" stroke-width="0.96" fill="none" stroke-linejoin="round" stroke-linecap="round"/>
<path d="M301.82 289.65 L313.57 293.68" stroke="#000" stroke-width="0.96" fill="none" stroke-linejoin="round" stroke-linecap="round"/>
<ellipse cx="298.13" cy="286.13" rx="2.7" ry="3.8" transform="rotate(-8 298.13 286.13)" fill="#fff" stroke="#000" stroke-width="1.2249999999999999"/>
<ellipse cx="301.15" cy="286.30" rx="1.9" ry="3.0" transform="rotate(-8 301.15 286.30)" fill="#fff" stroke="#000" stroke-width="1.05"/>
<path d="M312.23 287.30 Q314.41 288.98 314.16 290.91 Q313.91 292.84 313.07 293.43 L312.23 294.02" stroke="#000" stroke-width="0.96" fill="none" stroke-linejoin="round" stroke-linecap="round"/>
<path d="M305.18 293.68 L305.52 296.2 L309.38 297.38 L309.55 295.03" stroke="#000" stroke-width="0.88" fill="none" stroke-linejoin="round" stroke-linecap="round"/>
</g>
<g id="s_ic">
<rect x="402.9" y="278.1" width="40.5" height="40.7" rx="0" stroke="#000" stroke-width="0.88" fill="none" />
<rect x="405.2" y="280.4" width="36.4" height="35.8" rx="0" stroke="#222" stroke-width="0.79" fill="none" />
<line x1="423.6" y1="277.7" x2="423.6" y2="318.8" stroke="#333" stroke-width="0.7" />
<line x1="402.7" y1="298.6" x2="443.4" y2="298.6" stroke="#333" stroke-width="0.7" />
<circle cx="409.4" cy="286.4" r="1.9" stroke="#000" stroke-width="1.05" fill="none" />
<line x1="402.7" y1="264.4" x2="402.7" y2="277.7" stroke="#000" stroke-width="0.79" />
<line x1="443.4" y1="264.4" x2="443.4" y2="277.7" stroke="#000" stroke-width="0.79" />
<line x1="402.7" y1="265.4" x2="443.4" y2="265.4" stroke="#000" stroke-width="0.79" />
<text x="423.3" y="264.9" font-size="6.3" text-anchor="middle" font-weight="normal" fill="#000" stroke="#000" stroke-width="0" font-family="Liberation Sans, sans-serif" textLength="13" lengthAdjust="spacingAndGlyphs" >3.36</text>
<line x1="405.2" y1="271.7" x2="405.2" y2="280.2" stroke="#000" stroke-width="0.79" />
<line x1="441.2" y1="271.7" x2="441.2" y2="280.2" stroke="#000" stroke-width="0.79" />
<line x1="405.2" y1="272.6" x2="441.2" y2="272.6" stroke="#000" stroke-width="0.79" />
<text x="423.3" y="272.3" font-size="6.3" text-anchor="middle" font-weight="normal" fill="#000" stroke="#000" stroke-width="0" font-family="Liberation Sans, sans-serif" >3</text>
<line x1="386.6" y1="277.7" x2="402.7" y2="277.7" stroke="#000" stroke-width="0.79" />
<line x1="386.6" y1="318.8" x2="402.7" y2="318.8" stroke="#000" stroke-width="0.79" />
<line x1="387.6" y1="277.7" x2="387.6" y2="318.8" stroke="#000" stroke-width="0.79" />
<text x="387" y="298.6" font-size="6.3" text-anchor="middle" font-weight="normal" fill="#000" stroke="#000" stroke-width="0" font-family="Liberation Sans, sans-serif" textLength="13" lengthAdjust="spacingAndGlyphs" transform="rotate(-90 387 298.6)" >3.36</text>
<line x1="392.2" y1="280.2" x2="405.2" y2="280.2" stroke="#000" stroke-width="0.79" />
<line x1="392.2" y1="316.2" x2="405.2" y2="316.2" stroke="#000" stroke-width="0.79" />
<line x1="393.1" y1="280.2" x2="393.1" y2="316.2" stroke="#000" stroke-width="0.79" />
<text x="392.6" y="298.6" font-size="6.3" text-anchor="middle" font-weight="normal" fill="#000" stroke="#000" stroke-width="0" font-family="Liberation Sans, sans-serif" transform="rotate(-90 392.6 298.6)" >3</text>
<path d="M458 278.5 L468.1 278.5 L468.1 317.4 Q468.1 318.9 466.6 318.9 L459.5 318.9 Q458 318.9 458 317.4 Z" stroke="#000" stroke-width="0.96" fill="none" />
<line x1="458" y1="269.4" x2="458" y2="278.5" stroke="#000" stroke-width="0.79" />
<line x1="468.1" y1="269.4" x2="468.1" y2="278.5" stroke="#000" stroke-width="0.79" />
<line x1="457" y1="270.4" x2="469.2" y2="270.4" stroke="#000" stroke-width="0.79" />
<text x="463.2" y="269.8" font-size="6.3" text-anchor="middle" font-weight="normal" fill="#000" stroke="#000" stroke-width="0" font-family="Liberation Sans, sans-serif" textLength="9.2" lengthAdjust="spacingAndGlyphs" >0.9</text>
<rect x="491.8" y="278.5" width="41.2" height="40.6" rx="2" stroke="#000" stroke-width="0.88" fill="none" />
<line x1="512.1" y1="279" x2="512.1" y2="318.6" stroke="#666" stroke-width="1.31" stroke-dasharray="6 1"/>
<line x1="492.3" y1="299" x2="532.5" y2="299" stroke="#666" stroke-width="1.31" stroke-dasharray="6 1"/>
<rect x="493.5" y="280.6" width="15.9" height="15.5" rx="1" stroke="#000" stroke-width="1.05" fill="none" />
<rect x="493.5" y="301.7" width="15.9" height="15.4" rx="1" stroke="#000" stroke-width="1.05" fill="none" />
<path d="M514.7 286.0 L519.2 280.6 L530.6 280.6 Q531.4 280.6 531.4 281.4 L531.4 295.3 Q531.4 296.1 530.6 296.1 L515.5 296.1 Q514.7 296.1 514.7 295.3 Z" stroke="#000" stroke-width="1.05" fill="none" />
<path d="M514.7 308.4 L520.0 301.7 L530.6 301.7 Q531.4 301.7 531.4 302.5 L531.4 316.3 Q531.4 317.1 530.6 317.1 L515.5 317.1 Q514.7 317.1 514.7 316.3 Z" stroke="#000" stroke-width="1.05" fill="none" />
<text x="523" y="294.9" font-size="16.6" text-anchor="middle" font-weight="normal" fill="#000" stroke="#000" stroke-width="0.35" font-family="Liberation Sans, sans-serif" >1</text>
<line x1="493.4" y1="269.6" x2="493.4" y2="280.5" stroke="#000" stroke-width="0.79" />
<line x1="509.4" y1="269.6" x2="509.4" y2="280.5" stroke="#000" stroke-width="0.79" />
<line x1="492.4" y1="270.6" x2="510.6" y2="270.6" stroke="#000" stroke-width="0.79" />
<text x="501.5" y="270" font-size="6.3" text-anchor="middle" font-weight="normal" fill="#000" stroke="#000" stroke-width="0" font-family="Liberation Sans, sans-serif" textLength="9.2" lengthAdjust="spacingAndGlyphs" >1.3</text>
<line x1="485.4" y1="280.5" x2="493.4" y2="280.5" stroke="#000" stroke-width="0.79" />
<line x1="485.4" y1="296.1" x2="493.4" y2="296.1" stroke="#000" stroke-width="0.79" />
<line x1="486.4" y1="279.4" x2="486.4" y2="297.4" stroke="#000" stroke-width="0.79" />
<text x="485.8" y="288.2" font-size="6.3" text-anchor="middle" font-weight="normal" fill="#000" stroke="#000" stroke-width="0" font-family="Liberation Sans, sans-serif" textLength="9.2" lengthAdjust="spacingAndGlyphs" transform="rotate(-90 485.8 288.2)" >1.3</text>
<line x1="531.4" y1="288.2" x2="544.8" y2="288.2" stroke="#000" stroke-width="0.79" />
<line x1="531.4" y1="309.5" x2="544.8" y2="309.5" stroke="#000" stroke-width="0.79" />
<line x1="543.8" y1="287" x2="543.8" y2="310.8" stroke="#000" stroke-width="0.79" />
<text x="543" y="299" font-size="6.3" text-anchor="middle" font-weight="normal" fill="#000" stroke="#000" stroke-width="0" font-family="Liberation Sans, sans-serif" textLength="9.2" lengthAdjust="spacingAndGlyphs" transform="rotate(-90 543 299)" >1.8</text>
<line x1="501" y1="317.1" x2="501" y2="328" stroke="#000" stroke-width="0.79" />
<line x1="523" y1="317.1" x2="523" y2="328" stroke="#000" stroke-width="0.79" />
<line x1="500" y1="327" x2="524" y2="327" stroke="#000" stroke-width="0.79" />
<text x="512.2" y="326" font-size="6.3" text-anchor="middle" font-weight="normal" fill="#000" stroke="#000" stroke-width="0" font-family="Liberation Sans, sans-serif" textLength="9.2" lengthAdjust="spacingAndGlyphs" >1.8</text>
<text x="429.7" y="341.4" font-size="7.2" text-anchor="start" font-weight="normal" fill="#000" stroke="#000" stroke-width="0" font-family="Liberation Sans, sans-serif" textLength="72.3" lengthAdjust="spacingAndGlyphs" >APPL ICABLE IC(5:1)</text>
<line x1="428.3" y1="343.7" x2="502.2" y2="343.7" stroke="#000" stroke-width="1.14" />
</g>
<g id="s_tables">
<rect x="222.9" y="337" width="89.5" height="67.1" rx="0" stroke="#000" stroke-width="1.4" fill="none" />
<line x1="251.3" y1="337" x2="251.3" y2="404.1" stroke="#000" stroke-width="1.05" />
<line x1="222.9" y1="343.6" x2="312.4" y2="343.6" stroke="#000" stroke-width="1.05" />
<line x1="222.9" y1="350.3" x2="312.4" y2="350.3" stroke="#000" stroke-width="1.05" />
<line x1="222.9" y1="357" x2="312.4" y2="357" stroke="#000" stroke-width="1.05" />
<line x1="222.9" y1="363.8" x2="312.4" y2="363.8" stroke="#000" stroke-width="1.05" />
<line x1="222.9" y1="370.7" x2="312.4" y2="370.7" stroke="#000" stroke-width="1.05" />
<line x1="222.9" y1="377.5" x2="312.4" y2="377.5" stroke="#000" stroke-width="1.05" />
<line x1="222.9" y1="384.4" x2="312.4" y2="384.4" stroke="#000" stroke-width="1.05" />
<line x1="222.9" y1="391.3" x2="312.4" y2="391.3" stroke="#000" stroke-width="1.05" />
<line x1="222.9" y1="397.6" x2="312.4" y2="397.6" stroke="#000" stroke-width="1.05" />
<text x="226.3 231.5 237.1 242.1 247.6" y="342.2" font-size="4.8" fill="#3a3a3a" font-family="'Liberation Serif', 'Noto Serif CJK SC', serif">绝缘电阻:</text>
<text x="254.9" y="342.35" font-size="5.5" text-anchor="start" font-weight="normal" fill="#3a3a3a" stroke="#3a3a3a" stroke-width="0" font-family="Liberation Mono, sans-serif" textLength="35" lengthAdjust="spacingAndGlyphs" >DC100V / 1000</text>
<text x="290.5 295.3 300.7 305.2" y="342.2" font-size="4.7" fill="#3a3a3a" font-family="'Liberation Serif', 'Noto Serif CJK SC', serif">兆欧以上</text>
<text x="226.3 234.5 242.5 247.6" y="348.9" font-size="4.8" fill="#3a3a3a" font-family="'Liberation Serif', 'Noto Serif CJK SC', serif">耐电压:</text>
<text x="254.9" y="349.05" font-size="5.5" text-anchor="start" font-weight="normal" fill="#3a3a3a" stroke="#3a3a3a" stroke-width="0" font-family="Liberation Mono, sans-serif" textLength="28.4" lengthAdjust="spacingAndGlyphs" >DC100V 1Min</text>
<text x="226.3 231.5 237.1 242.1 247.6" y="355.6" font-size="4.8" fill="#3a3a3a" font-family="'Liberation Serif', 'Noto Serif CJK SC', serif">额定电流:</text>
<text x="254.9" y="355.75" font-size="5.5" text-anchor="start" font-weight="normal" fill="#3a3a3a" stroke="#3a3a3a" stroke-width="0" font-family="Liberation Mono, sans-serif" textLength="26.4" lengthAdjust="spacingAndGlyphs" >2.0A  (150</text>
<text x="281.7" y="355.75" font-size="4.4" text-anchor="start" fill="#3a3a3a" font-family="'Liberation Mono', 'Noto Sans CJK SC', monospace" textLength="4.3" lengthAdjust="spacingAndGlyphs">℃</text>
<text x="286.4" y="355.75" font-size="5.5" text-anchor="start" font-weight="normal" fill="#3a3a3a" stroke="#3a3a3a" stroke-width="0" font-family="Liberation Mono, sans-serif" textLength="2.2" lengthAdjust="spacingAndGlyphs" >)</text>
<text x="226.3 231.5 237.1 242.1 247.6" y="362.4" font-size="4.8" fill="#3a3a3a" font-family="'Liberation Serif', 'Noto Serif CJK SC', serif">接触电阻:</text>
<text x="254.9" y="362.55" font-size="5.5" text-anchor="start" font-weight="normal" fill="#3a3a3a" stroke="#3a3a3a" stroke-width="0" font-family="Liberation Mono, sans-serif" textLength="12.6" lengthAdjust="spacingAndGlyphs" >&lt;100 </text>
<text x="270.5 275.5" y="362.4" font-size="4.7" fill="#3a3a3a" font-family="'Liberation Serif', 'Noto Serif CJK SC', serif">毫欧</text>
<text x="226.3 242.1 247.6" y="369.3" font-size="4.8" fill="#3a3a3a" font-family="'Liberation Serif', 'Noto Serif CJK SC', serif">带宽:</text>
<text x="254.9" y="369.45" font-size="5.5" text-anchor="start" font-weight="normal" fill="#3a3a3a" stroke="#3a3a3a" stroke-width="0" font-family="Liberation Mono, sans-serif" textLength="31" lengthAdjust="spacingAndGlyphs" >2.4GHz  @2db</text>
<text x="226.3 231.5 236.7 242.1 247.6" y="376.1" font-size="4.8" fill="#3a3a3a" font-family="'Liberation Serif', 'Noto Serif CJK SC', serif">工作温度:</text>
<text x="254.9" y="376.25" font-size="5.5" text-anchor="start" font-weight="normal" fill="#3a3a3a" stroke="#3a3a3a" stroke-width="0" font-family="Liberation Mono, sans-serif" textLength="7.8" lengthAdjust="spacingAndGlyphs" >-55</text>
<text x="263.2" y="376.25" font-size="4.4" text-anchor="start" fill="#3a3a3a" font-family="'Liberation Mono', 'Noto Sans CJK SC', monospace" textLength="4.3" lengthAdjust="spacingAndGlyphs">℃</text>
<text x="271.5" y="376.25" font-size="5.5" text-anchor="start" font-weight="normal" fill="#3a3a3a" stroke="#3a3a3a" stroke-width="0" font-family="Liberation Mono, sans-serif" textLength="3" lengthAdjust="spacingAndGlyphs" >~</text>
<text x="277.6" y="376.25" font-size="5.5" text-anchor="start" font-weight="normal" fill="#3a3a3a" stroke="#3a3a3a" stroke-width="0" font-family="Liberation Mono, sans-serif" textLength="10.2" lengthAdjust="spacingAndGlyphs" >+150</text>
<text x="288.3" y="376.25" font-size="4.4" text-anchor="start" fill="#3a3a3a" font-family="'Liberation Mono', 'Noto Sans CJK SC', monospace" textLength="4.3" lengthAdjust="spacingAndGlyphs">℃</text>
<text x="226.3 231.5 236.7 242.1 247.6" y="383" font-size="4.8" fill="#3a3a3a" font-family="'Liberation Serif', 'Noto Serif CJK SC', serif">高温寿命:</text>
<text x="254.9" y="383.15" font-size="5.5" text-anchor="start" font-weight="normal" fill="#3a3a3a" stroke="#3a3a3a" stroke-width="0" font-family="Liberation Mono, sans-serif" textLength="9.8" lengthAdjust="spacingAndGlyphs" >+150</text>
<text x="265.2" y="383.15" font-size="4.4" text-anchor="start" fill="#3a3a3a" font-family="'Liberation Mono', 'Noto Sans CJK SC', monospace" textLength="4.3" lengthAdjust="spacingAndGlyphs">℃</text>
<text x="226.3 231.5 236.7 242.1 247.6" y="389.9" font-size="4.8" fill="#3a3a3a" font-family="'Liberation Serif', 'Noto Serif CJK SC', serif">机械寿命:</text>
<text x="254.9" y="390.05" font-size="5.5" text-anchor="start" font-weight="normal" fill="#3a3a3a" stroke="#3a3a3a" stroke-width="0" font-family="Liberation Mono, sans-serif" textLength="10.4" lengthAdjust="spacingAndGlyphs" >100K</text>
<text x="267.4" y="389.85" font-size="4.4" text-anchor="start" font-weight="bold" fill="#111" stroke="#111" stroke-width="0" font-family="Liberation Sans, sans-serif" textLength="9.6" lengthAdjust="spacingAndGlyphs" >next</text>
<text x="226.3 234.1 242.1 247.6" y="396.2" font-size="4.8" fill="#3a3a3a" font-family="'Liberation Serif', 'Noto Serif CJK SC', serif">操作力:</text>
<text x="254.9" y="396.35" font-size="5.5" text-anchor="start" font-weight="normal" fill="#3a3a3a" stroke="#3a3a3a" stroke-width="0" font-family="Liberation Mono, sans-serif" textLength="43.8" lengthAdjust="spacingAndGlyphs" >30gf +/-20% / Pin</text>
<text x="226.3 231.5 236.7 242.1 247.6" y="402.7" font-size="4.8" fill="#3a3a3a" font-family="'Liberation Serif', 'Noto Serif CJK SC', serif">安装方式:</text>
<text x="255 260 265 270 274.8 279.8 284.8 289.9 295" y="402.7" font-size="4.6" fill="#3a3a3a" font-family="'Liberation Serif', 'Noto Serif CJK SC', serif">表贴式，锚丝紧固；</text>
<rect x="312.4" y="350.4" width="76.5" height="53.6" rx="0" stroke="#000" stroke-width="1.4" fill="none" />
<line x1="322.3" y1="350.4" x2="322.3" y2="404" stroke="#000" stroke-width="1.05" />
<line x1="350.6" y1="350.4" x2="350.6" y2="404" stroke="#000" stroke-width="1.05" />
<line x1="379.7" y1="350.4" x2="379.7" y2="404" stroke="#000" stroke-width="1.05" />
<line x1="312.4" y1="356.4" x2="388.9" y2="356.4" stroke="#000" stroke-width="1.05" />
<line x1="312.4" y1="362.6" x2="388.9" y2="362.6" stroke="#000" stroke-width="1.05" />
<line x1="312.4" y1="368.5" x2="388.9" y2="368.5" stroke="#000" stroke-width="1.05" />
<line x1="312.4" y1="374.4" x2="388.9" y2="374.4" stroke="#000" stroke-width="1.05" />
<line x1="312.4" y1="380.3" x2="388.9" y2="380.3" stroke="#000" stroke-width="1.05" />
<line x1="312.4" y1="386.2" x2="388.9" y2="386.2" stroke="#000" stroke-width="1.05" />
<line x1="312.4" y1="392.3" x2="388.9" y2="392.3" stroke="#000" stroke-width="1.05" />
<line x1="312.4" y1="398.3" x2="388.9" y2="398.3" stroke="#000" stroke-width="1.05" />
<circle cx="317.8" cy="353.4" r="2.2" stroke="#000" stroke-width="1.22" fill="#fff" />
<text x="317.8" y="354.7" font-size="3.7" text-anchor="middle" font-weight="bold" fill="#000" stroke="#000" stroke-width="0.25" font-family="Liberation Sans, sans-serif" >8</text>
<text x="336.4" y="354.6" font-size="3.2" text-anchor="middle" fill="#666" font-family="'Liberation Sans', 'Noto Sans CJK SC', sans-serif">螺钉</text>
<text x="365" y="354.7" font-size="3.7" text-anchor="middle" font-weight="bold" fill="#000" stroke="#000" stroke-width="0.1" font-family="Liberation Sans, sans-serif" textLength="15.6" lengthAdjust="spacingAndGlyphs" >COPPER</text>
<text x="383.6" y="354.9" font-size="4.2" text-anchor="middle" font-weight="bold" fill="#000" stroke="#000" stroke-width="0.1" font-family="Liberation Sans, sans-serif" >4</text>
<circle cx="317.8" cy="359.5" r="2.2" stroke="#000" stroke-width="1.22" fill="#fff" />
<text x="317.8" y="360.8" font-size="3.7" text-anchor="middle" font-weight="bold" fill="#000" stroke="#000" stroke-width="0.25" font-family="Liberation Sans, sans-serif" >7</text>
<text x="336.4" y="360.7" font-size="3.2" text-anchor="middle" fill="#666" font-family="'Liberation Sans', 'Noto Sans CJK SC', sans-serif">下压板</text>
<text x="365.05" y="360.7" font-size="3.5" text-anchor="middle" fill="#666" font-family="'Liberation Sans', 'Noto Sans CJK SC', sans-serif">工程材料</text>
<text x="383.6" y="361" font-size="4.2" text-anchor="middle" font-weight="bold" fill="#000" stroke="#000" stroke-width="0.1" font-family="Liberation Sans, sans-serif" >1</text>
<circle cx="317.8" cy="365.55" r="2.2" stroke="#000" stroke-width="1.22" fill="#fff" />
<text x="317.8" y="366.85" font-size="3.7" text-anchor="middle" font-weight="bold" fill="#000" stroke="#000" stroke-width="0.25" font-family="Liberation Sans, sans-serif" >6</text>
<text x="336.4" y="366.75" font-size="3.2" text-anchor="middle" fill="#666" font-family="'Liberation Sans', 'Noto Sans CJK SC', sans-serif">上压板</text>
<text x="365.05" y="366.75" font-size="3.5" text-anchor="middle" fill="#666" font-family="'Liberation Sans', 'Noto Sans CJK SC', sans-serif">工程材料</text>
<text x="383.6" y="367.05" font-size="4.2" text-anchor="middle" font-weight="bold" fill="#000" stroke="#000" stroke-width="0.1" font-family="Liberation Sans, sans-serif" >1</text>
<circle cx="317.8" cy="371.45" r="2.2" stroke="#000" stroke-width="1.22" fill="#fff" />
<text x="317.8" y="372.75" font-size="3.7" text-anchor="middle" font-weight="bold" fill="#000" stroke="#000" stroke-width="0.25" font-family="Liberation Sans, sans-serif" >5</text>
<text x="336.4" y="372.65" font-size="3.2" text-anchor="middle" fill="#666" font-family="'Liberation Sans', 'Noto Sans CJK SC', sans-serif">锁扣</text>
<text x="365.05" y="372.65" font-size="3.5" text-anchor="middle" fill="#666" font-family="'Liberation Sans', 'Noto Sans CJK SC', sans-serif">工程材料</text>
<text x="383.6" y="372.95" font-size="4.2" text-anchor="middle" font-weight="bold" fill="#000" stroke="#000" stroke-width="0.1" font-family="Liberation Sans, sans-serif" >1</text>
<circle cx="317.8" cy="377.35" r="2.2" stroke="#000" stroke-width="1.22" fill="#fff" />
<text x="317.8" y="378.65" font-size="3.7" text-anchor="middle" font-weight="bold" fill="#000" stroke="#000" stroke-width="0.25" font-family="Liberation Sans, sans-serif" >4</text>
<text x="336.4" y="378.55" font-size="3.2" text-anchor="middle" fill="#666" font-family="'Liberation Sans', 'Noto Sans CJK SC', sans-serif">底座</text>
<text x="365" y="378.65" font-size="3.7" text-anchor="middle" font-weight="bold" fill="#000" stroke="#000" stroke-width="0.1" font-family="Liberation Sans, sans-serif" textLength="14.8" lengthAdjust="spacingAndGlyphs" >AL6061</text>
<text x="383.6" y="378.85" font-size="4.2" text-anchor="middle" font-weight="bold" fill="#000" stroke="#000" stroke-width="0.1" font-family="Liberation Sans, sans-serif" >1</text>
<circle cx="317.8" cy="383.25" r="2.2" stroke="#000" stroke-width="1.22" fill="#fff" />
<text x="317.8" y="384.55" font-size="3.7" text-anchor="middle" font-weight="bold" fill="#000" stroke="#000" stroke-width="0.25" font-family="Liberation Sans, sans-serif" >3</text>
<text x="336.4" y="384.45" font-size="3.2" text-anchor="middle" fill="#666" font-family="'Liberation Sans', 'Noto Sans CJK SC', sans-serif">压块</text>
<text x="365.05" y="384.45" font-size="3.5" text-anchor="middle" fill="#666" font-family="'Liberation Sans', 'Noto Sans CJK SC', sans-serif">工程材料</text>
<text x="383.6" y="384.75" font-size="4.2" text-anchor="middle" font-weight="bold" fill="#000" stroke="#000" stroke-width="0.1" font-family="Liberation Sans, sans-serif" >1</text>
<circle cx="317.8" cy="389.25" r="2.2" stroke="#000" stroke-width="1.22" fill="#fff" />
<text x="317.8" y="390.55" font-size="3.7" text-anchor="middle" font-weight="bold" fill="#000" stroke="#000" stroke-width="0.25" font-family="Liberation Sans, sans-serif" >2</text>
<text x="336.4" y="390.45" font-size="3.2" text-anchor="middle" fill="#666" font-family="'Liberation Sans', 'Noto Sans CJK SC', sans-serif">上盖</text>
<text x="365" y="390.55" font-size="3.7" text-anchor="middle" font-weight="bold" fill="#000" stroke="#000" stroke-width="0.1" font-family="Liberation Sans, sans-serif" textLength="14.8" lengthAdjust="spacingAndGlyphs" >AL6061</text>
<text x="383.6" y="390.75" font-size="4.2" text-anchor="middle" font-weight="bold" fill="#000" stroke="#000" stroke-width="0.1" font-family="Liberation Sans, sans-serif" >1</text>
<circle cx="317.8" cy="395.3" r="2.2" stroke="#000" stroke-width="1.22" fill="#fff" />
<text x="317.8" y="396.6" font-size="3.7" text-anchor="middle" font-weight="bold" fill="#000" stroke="#000" stroke-width="0.25" font-family="Liberation Sans, sans-serif" >1</text>
<text x="336.4" y="396.5" font-size="3.2" text-anchor="middle" fill="#666" font-family="'Liberation Sans', 'Noto Sans CJK SC', sans-serif">基座</text>
<text x="365" y="396.6" font-size="3.7" text-anchor="middle" font-weight="bold" fill="#000" stroke="#000" stroke-width="0.1" font-family="Liberation Sans, sans-serif" textLength="14.8" lengthAdjust="spacingAndGlyphs" >AL6061</text>
<text x="383.6" y="396.8" font-size="4.2" text-anchor="middle" font-weight="bold" fill="#000" stroke="#000" stroke-width="0.1" font-family="Liberation Sans, sans-serif" >1</text>
<text x="317.35" y="402.4" font-size="3.4" text-anchor="middle" fill="#555" font-family="'Liberation Sans', 'Noto Sans CJK SC', sans-serif">序号</text>
<text x="336.4" y="402.4" font-size="3.4" text-anchor="middle" fill="#555" font-family="'Liberation Sans', 'Noto Sans CJK SC', sans-serif">名称</text>
<text x="364.95" y="402.4" font-size="3.4" text-anchor="middle" fill="#555" font-family="'Liberation Sans', 'Noto Sans CJK SC', sans-serif">材质</text>
<text x="384.15" y="402.4" font-size="3.4" text-anchor="middle" fill="#555" font-family="'Liberation Sans', 'Noto Sans CJK SC', sans-serif">数量</text>
<rect x="390.9" y="350.3" width="195.6" height="53.8" rx="0" stroke="#000" stroke-width="1.31" fill="none" />
<line x1="390.9" y1="357.5" x2="474.8" y2="357.5" stroke="#000" stroke-width="1.05" />
<line x1="390.9" y1="365.6" x2="474.8" y2="365.6" stroke="#000" stroke-width="1.05" />
<line x1="390.9" y1="373.4" x2="474.8" y2="373.4" stroke="#000" stroke-width="1.05" />
<line x1="390.9" y1="381.2" x2="474.8" y2="381.2" stroke="#000" stroke-width="1.05" />
<line x1="390.9" y1="389" x2="474.8" y2="389" stroke="#000" stroke-width="1.05" />
<line x1="390.9" y1="396.7" x2="474.8" y2="396.7" stroke="#000" stroke-width="1.05" />
<line x1="403.9" y1="350.3" x2="403.9" y2="381.2" stroke="#000" stroke-width="1.05" />
<line x1="403.9" y1="389" x2="403.9" y2="404.1" stroke="#000" stroke-width="1.05" />
<line x1="432.7" y1="350.3" x2="432.7" y2="381.2" stroke="#000" stroke-width="1.05" />
<line x1="432.7" y1="389" x2="432.7" y2="404.1" stroke="#000" stroke-width="1.05" />
<line x1="446.4" y1="350.3" x2="446.4" y2="381.2" stroke="#000" stroke-width="1.05" />
<line x1="446.4" y1="389" x2="446.4" y2="404.1" stroke="#000" stroke-width="1.05" />
<line x1="474.8" y1="350.3" x2="474.8" y2="404.1" stroke="#000" stroke-width="1.22" />
<path d="M392.8 356.2 L395.2 351.4 L397.6 356.2Z" stroke="#000" stroke-width="0.96" fill="none" />
<text x="399.4" y="356.2" font-size="5.0" text-anchor="middle" font-weight="bold" fill="#000" stroke="#000" stroke-width="0.1" font-family="Liberation Sans, sans-serif" >C</text>
<path d="M392.8 363.85 L395.2 359.05 L397.6 363.85Z" stroke="#000" stroke-width="0.96" fill="none" />
<text x="399.4" y="363.85" font-size="5.0" text-anchor="middle" font-weight="bold" fill="#000" stroke="#000" stroke-width="0.1" font-family="Liberation Sans, sans-serif" >B</text>
<path d="M392.8 371.8 L395.2 367 L397.6 371.8Z" stroke="#000" stroke-width="0.96" fill="none" />
<text x="399.4" y="371.8" font-size="5.0" text-anchor="middle" font-weight="bold" fill="#000" stroke="#000" stroke-width="0.1" font-family="Liberation Sans, sans-serif" >A</text>
<text x="392.8 397.8" y="379" font-size="4.7" fill="#2a2a2a" font-family="'Liberation Serif', 'Noto Serif CJK SC', serif">版本</text>
<text x="408.4 413.5 418.4 423.4" y="379" font-size="4.7" fill="#2a2a2a" font-family="'Liberation Serif', 'Noto Serif CJK SC', serif">更改事项</text>
<text x="435.4 439.8" y="379" font-size="4.7" fill="#2a2a2a" font-family="'Liberation Serif', 'Noto Serif CJK SC', serif">日期</text>
<text x="453.4 458.5 463.3" y="379" font-size="4.7" fill="#2a2a2a" font-family="'Liberation Serif', 'Noto Serif CJK SC', serif">更改者</text>
<text x="430.1 435.2 440.1 445.1" y="386.8" font-size="4.7" fill="#2a2a2a" font-family="'Liberation Serif', 'Noto Serif CJK SC', serif">更改记录</text>
<text x="392.8 397.8" y="394.6" font-size="4.7" fill="#2a2a2a" font-family="'Liberation Serif', 'Noto Serif CJK SC', serif">审核</text>
<text x="435.4 439.8" y="394.6" font-size="4.7" fill="#2a2a2a" font-family="'Liberation Serif', 'Noto Serif CJK SC', serif">日期</text>
<text x="392.8 397.8" y="402" font-size="4.7" fill="#2a2a2a" font-family="'Liberation Serif', 'Noto Serif CJK SC', serif">设计</text>
<text x="435.4 439.8" y="402" font-size="4.7" fill="#2a2a2a" font-family="'Liberation Serif', 'Noto Serif CJK SC', serif">日期</text>
<text x="418.4" y="401.8" font-size="3.2" text-anchor="middle" font-weight="bold" fill="#333" stroke="#333" stroke-width="0" font-family="Liberation Sans, sans-serif" >HqP</text>
<text x="460.8" y="401.7" font-size="3.0" text-anchor="middle" font-weight="normal" fill="#333" stroke="#333" stroke-width="0" font-family="Liberation Sans, sans-serif" textLength="12.6" lengthAdjust="spacingAndGlyphs" >20241102</text>
<line x1="474.8" y1="373.4" x2="586.5" y2="373.4" stroke="#000" stroke-width="1.05" />
<line x1="474.8" y1="381.2" x2="586.5" y2="381.2" stroke="#000" stroke-width="1.05" />
<line x1="474.8" y1="389" x2="586.5" y2="389" stroke="#000" stroke-width="1.05" />
<line x1="474.8" y1="396.7" x2="586.5" y2="396.7" stroke="#000" stroke-width="1.05" />
<line x1="488.3" y1="373.4" x2="488.3" y2="404.1" stroke="#000" stroke-width="1.05" />
<line x1="532.8" y1="389" x2="532.8" y2="404.1" stroke="#000" stroke-width="1.05" />
<line x1="547.6" y1="389" x2="547.6" y2="404.1" stroke="#000" stroke-width="1.05" />
<line x1="476" y1="350.8" x2="585.6" y2="372.8" stroke="#000" stroke-width="1.05" />
<text x="476.8 481.7" y="379" font-size="4.7" fill="#2a2a2a" font-family="'Liberation Serif', 'Noto Serif CJK SC', serif">名称</text>
<text x="529.7 534.6 539.5" y="379" font-size="4.7" fill="#2a2a2a" font-family="'Liberation Serif', 'Noto Serif CJK SC', serif">测试座</text>
<text x="476.8 481.7" y="386.8" font-size="4.7" fill="#2a2a2a" font-family="'Liberation Serif', 'Noto Serif CJK SC', serif">型号</text>
<text x="489.4" y="386.7" font-size="3.9" text-anchor="start" font-weight="normal" fill="#111" stroke="#111" stroke-width="0.1" font-family="Liberation Sans, sans-serif" textLength="93.4" lengthAdjust="spacingAndGlyphs" >HYDZ-20241102-SOM4-P1.8-3.36X3.36X0.9</text>
<text x="476.9 481.7" y="394.6" font-size="4.7" fill="#2a2a2a" font-family="'Liberation Serif', 'Noto Serif CJK SC', serif">比例</text>
<text x="535.4 540.2" y="394.6" font-size="4.7" fill="#2a2a2a" font-family="'Liberation Serif', 'Noto Serif CJK SC', serif">单位</text>
<text x="476.8 481.7" y="402" font-size="4.7" fill="#2a2a2a" font-family="'Liberation Serif', 'Noto Serif CJK SC', serif">页面</text>
<text x="535.4 540.3" y="402" font-size="4.7" fill="#2a2a2a" font-family="'Liberation Serif', 'Noto Serif CJK SC', serif">版本</text>
<text x="512" y="394.7" font-size="4.6" text-anchor="middle" font-weight="bold" fill="#000" stroke="#000" stroke-width="0.1" font-family="Liberation Sans, sans-serif" >1:1</text>
<text x="566.8" y="394.5" font-size="4.6" text-anchor="middle" font-weight="bold" fill="#000" stroke="#000" stroke-width="0.1" font-family="Liberation Sans, sans-serif" >mm</text>
<text x="512.6" y="402.2" font-size="4.6" text-anchor="middle" font-weight="bold" fill="#000" stroke="#000" stroke-width="0.1" font-family="Liberation Sans, sans-serif" >1-1</text>
<text x="566.8" y="402.1" font-size="4.6" text-anchor="middle" font-weight="bold" fill="#000" stroke="#000" stroke-width="0.1" font-family="Liberation Sans, sans-serif" >V1.0</text>
</g>
</g>
</svg>
</body></html>
